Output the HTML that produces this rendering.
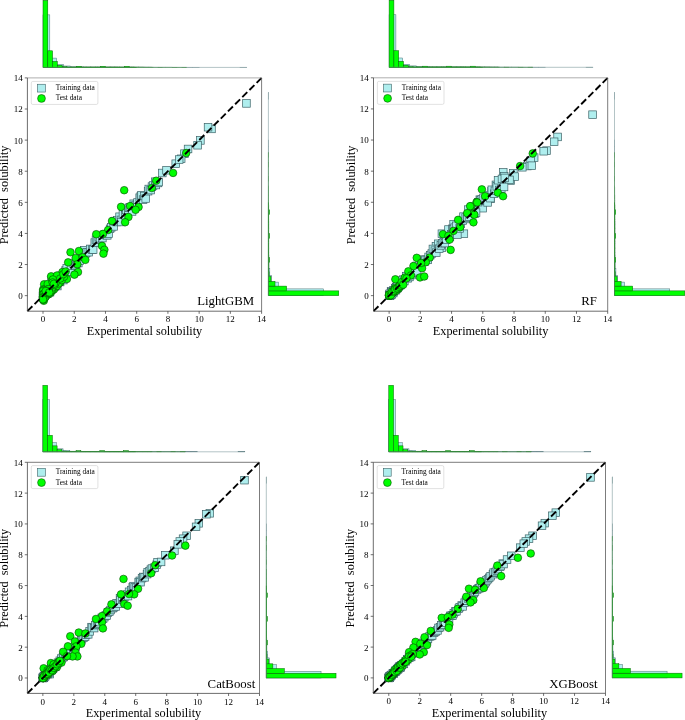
<!DOCTYPE html>
<html lang="en"><head><meta charset="utf-8"><title>Predicted vs experimental solubility</title>
<style>
html,body{margin:0;padding:0;background:#fff;}
svg{display:block;}
text{font-family:"Liberation Serif","Times New Roman",serif;fill:#000;white-space:pre;}
.tk{font-size:9px;}
.al{font-size:12.27px;}
.nm{font-size:12.8px;}
.lg{font-size:7.35px;}
</style></head><body>
<svg width="685" height="720" viewBox="0 0 685 720">
<rect width="685" height="720" fill="#fff"/>

<g id="LightGBM">
<g fill="#afeeee" stroke="#4d6e72" stroke-width="0.5"><rect x="43.01" y="14.86" width="6.79" height="52.54"/><rect x="49.81" y="58.09" width="6.79" height="9.31"/><rect x="56.6" y="64.4" width="6.79" height="3"/><rect x="63.39" y="66" width="6.79" height="1.4"/><rect x="70.18" y="66.8" width="6.79" height="0.6"/><rect x="76.97" y="66.9" width="6.79" height="0.5"/><rect x="83.76" y="67" width="6.79" height="0.4"/><rect x="90.56" y="67" width="6.79" height="0.4"/><rect x="97.35" y="67" width="6.79" height="0.4"/><rect x="104.14" y="67" width="6.79" height="0.4"/><rect x="110.93" y="67" width="6.79" height="0.4"/><rect x="117.72" y="67.1" width="6.79" height="0.3"/><rect x="124.51" y="67.1" width="6.79" height="0.3"/><rect x="131.31" y="67.1" width="6.79" height="0.3"/><rect x="138.1" y="67.1" width="6.79" height="0.3"/><rect x="144.89" y="67.1" width="6.79" height="0.3"/><rect x="151.68" y="67.2" width="6.79" height="0.2"/><rect x="158.47" y="67.2" width="6.79" height="0.2"/><rect x="165.27" y="67.2" width="6.79" height="0.2"/><rect x="172.06" y="67.3" width="6.79" height="0.1"/><rect x="178.85" y="67.3" width="6.79" height="0.1"/><rect x="185.64" y="67.3" width="6.79" height="0.1"/><rect x="192.43" y="67.3" width="6.79" height="0.1"/><rect x="239.98" y="67.3" width="6.79" height="0.1"/></g>
<g fill="#00ff00" stroke="#066006" stroke-width="0.5"><rect x="43.01" y="0.34" width="4.79" height="67.06"/><rect x="47.8" y="50.79" width="4.79" height="16.61"/><rect x="52.59" y="61.39" width="4.79" height="6.01"/><rect x="57.38" y="65.3" width="4.79" height="2.1"/><rect x="62.17" y="66.7" width="4.79" height="0.7"/><rect x="66.95" y="67" width="4.79" height="0.4"/><rect x="71.74" y="67" width="4.79" height="0.4"/><rect x="76.53" y="66.3" width="4.79" height="1.1"/><rect x="81.32" y="67" width="4.79" height="0.4"/><rect x="86.11" y="67" width="4.79" height="0.4"/><rect x="90.89" y="67" width="4.79" height="0.4"/><rect x="95.68" y="67" width="4.79" height="0.4"/><rect x="100.47" y="66.3" width="4.79" height="1.1"/><rect x="105.26" y="67" width="4.79" height="0.4"/><rect x="110.05" y="67" width="4.79" height="0.4"/><rect x="114.83" y="67" width="4.79" height="0.4"/><rect x="119.62" y="67" width="4.79" height="0.4"/><rect x="124.41" y="66.3" width="4.79" height="1.1"/><rect x="129.2" y="67" width="4.79" height="0.4"/><rect x="133.99" y="67.1" width="4.79" height="0.3"/><rect x="138.78" y="67.1" width="4.79" height="0.3"/><rect x="143.56" y="67.2" width="4.79" height="0.2"/><rect x="148.35" y="67.2" width="4.79" height="0.2"/><rect x="157.93" y="67.3" width="4.79" height="0.1"/><rect x="172.29" y="67.3" width="4.79" height="0.1"/><rect x="181.87" y="67.3" width="4.79" height="0.1"/></g>
<path d="M43.01 67.4H246.77" stroke="#93abae" stroke-width="0.7" fill="none"/>
<path d="M43.01 67.4H136.69" stroke="#1f8a1f" stroke-width="0.7" fill="none"/>
<path d="M136.69 67.4H186.66" stroke="#4f9a4f" stroke-width="0.5" fill="none"/>
<g fill="#afeeee" stroke="#4d6e72" stroke-width="0.5"><rect x="268.4" y="288.88" width="55.25" height="6.77"/><rect x="268.4" y="282.12" width="10.21" height="6.77"/><rect x="268.4" y="275.35" width="3" height="6.77"/><rect x="268.4" y="268.58" width="1.4" height="6.77"/><rect x="268.4" y="261.82" width="0.6" height="6.77"/><rect x="268.4" y="255.05" width="0.5" height="6.77"/><rect x="268.4" y="248.29" width="0.4" height="6.77"/><rect x="268.4" y="241.52" width="0.4" height="6.77"/><rect x="268.4" y="234.76" width="0.4" height="6.77"/><rect x="268.4" y="227.99" width="0.4" height="6.77"/><rect x="268.4" y="221.22" width="0.4" height="6.77"/><rect x="268.4" y="214.46" width="0.3" height="6.77"/><rect x="268.4" y="207.69" width="0.3" height="6.77"/><rect x="268.4" y="200.93" width="0.3" height="6.77"/><rect x="268.4" y="194.16" width="0.3" height="6.77"/><rect x="268.4" y="187.4" width="0.3" height="6.77"/><rect x="268.4" y="180.63" width="0.2" height="6.77"/><rect x="268.4" y="173.86" width="0.2" height="6.77"/><rect x="268.4" y="167.1" width="0.2" height="6.77"/><rect x="268.4" y="160.33" width="0.1" height="6.77"/><rect x="268.4" y="153.57" width="0.1" height="6.77"/><rect x="268.4" y="146.8" width="0.1" height="6.77"/><rect x="268.4" y="140.04" width="0.1" height="6.77"/><rect x="268.4" y="92.68" width="0.1" height="6.77"/></g>
<g fill="#00ff00" stroke="#066006" stroke-width="0.5"><rect x="268.4" y="290.88" width="70.36" height="4.77"/><rect x="268.4" y="286.11" width="18.22" height="4.77"/><rect x="268.4" y="281.34" width="6.61" height="4.77"/><rect x="268.4" y="276.57" width="2.6" height="4.77"/><rect x="268.4" y="271.8" width="0.7" height="4.77"/><rect x="268.4" y="267.03" width="0.4" height="4.77"/><rect x="268.4" y="262.26" width="0.4" height="4.77"/><rect x="268.4" y="257.49" width="1.1" height="4.77"/><rect x="268.4" y="252.72" width="0.4" height="4.77"/><rect x="268.4" y="247.95" width="0.4" height="4.77"/><rect x="268.4" y="243.18" width="0.4" height="4.77"/><rect x="268.4" y="238.41" width="0.4" height="4.77"/><rect x="268.4" y="233.64" width="1.1" height="4.77"/><rect x="268.4" y="228.87" width="0.4" height="4.77"/><rect x="268.4" y="224.1" width="0.4" height="4.77"/><rect x="268.4" y="219.33" width="0.4" height="4.77"/><rect x="268.4" y="214.56" width="0.4" height="4.77"/><rect x="268.4" y="209.79" width="1.1" height="4.77"/><rect x="268.4" y="205.02" width="0.4" height="4.77"/><rect x="268.4" y="200.25" width="0.3" height="4.77"/><rect x="268.4" y="195.48" width="0.3" height="4.77"/><rect x="268.4" y="190.71" width="0.2" height="4.77"/><rect x="268.4" y="185.94" width="0.2" height="4.77"/><rect x="268.4" y="176.4" width="0.1" height="4.77"/><rect x="268.4" y="162.1" width="0.1" height="4.77"/><rect x="268.4" y="152.56" width="0.1" height="4.77"/></g>
<path d="M268.4 295.65V92.68" stroke="#93abae" stroke-width="0.7" fill="none"/>
<path d="M268.4 295.65V202.33" stroke="#1f8a1f" stroke-width="0.7" fill="none"/>
<path d="M268.4 202.33V152.56" stroke="#4f9a4f" stroke-width="0.5" fill="none"/>
<g fill="#afeeee" stroke="#3c6266" stroke-width="0.7"><rect x="242.66" y="99.61" width="7.6" height="7.6"/><rect x="207.68" y="125.11" width="7.6" height="7.6"/><rect x="204.25" y="123.4" width="7.6" height="7.6"/><rect x="196.6" y="136.62" width="7.6" height="7.6"/><rect x="193.79" y="141.45" width="7.6" height="7.6"/><rect x="184.26" y="145.18" width="7.6" height="7.6"/><rect x="180.67" y="149.84" width="7.6" height="7.6"/><rect x="177.39" y="154.98" width="7.6" height="7.6"/><rect x="46.18" y="288.41" width="7.6" height="7.6"/><rect x="47.75" y="275.76" width="7.6" height="7.6"/><rect x="49.64" y="279.02" width="7.6" height="7.6"/><rect x="50.51" y="279.35" width="7.6" height="7.6"/><rect x="51.99" y="279.5" width="7.6" height="7.6"/><rect x="53.53" y="282.24" width="7.6" height="7.6"/><rect x="54.46" y="276.93" width="7.6" height="7.6"/><rect x="56.31" y="278.2" width="7.6" height="7.6"/><rect x="57.89" y="271.94" width="7.6" height="7.6"/><rect x="59.53" y="276.26" width="7.6" height="7.6"/><rect x="60.1" y="273.02" width="7.6" height="7.6"/><rect x="61.79" y="266.7" width="7.6" height="7.6"/><rect x="62.97" y="264.61" width="7.6" height="7.6"/><rect x="65.3" y="268.43" width="7.6" height="7.6"/><rect x="66.59" y="267.91" width="7.6" height="7.6"/><rect x="67.21" y="262.04" width="7.6" height="7.6"/><rect x="69.82" y="259.5" width="7.6" height="7.6"/><rect x="71.24" y="262.09" width="7.6" height="7.6"/><rect x="72.29" y="260.41" width="7.6" height="7.6"/><rect x="73.68" y="259.03" width="7.6" height="7.6"/><rect x="74.54" y="259.25" width="7.6" height="7.6"/><rect x="75.8" y="256.88" width="7.6" height="7.6"/><rect x="77.88" y="250.61" width="7.6" height="7.6"/><rect x="78.73" y="250.98" width="7.6" height="7.6"/><rect x="80.33" y="246.41" width="7.6" height="7.6"/><rect x="81.83" y="249.58" width="7.6" height="7.6"/><rect x="83" y="248.52" width="7.6" height="7.6"/><rect x="84.98" y="248.4" width="7.6" height="7.6"/><rect x="86.38" y="245.13" width="7.6" height="7.6"/><rect x="88.32" y="245.78" width="7.6" height="7.6"/><rect x="89.36" y="245.77" width="7.6" height="7.6"/><rect x="90.94" y="238.8" width="7.6" height="7.6"/><rect x="92.2" y="235.92" width="7.6" height="7.6"/><rect x="93.84" y="235.6" width="7.6" height="7.6"/><rect x="95.02" y="233.35" width="7.6" height="7.6"/><rect x="96.24" y="234.49" width="7.6" height="7.6"/><rect x="98.57" y="234.28" width="7.6" height="7.6"/><rect x="100.01" y="231.1" width="7.6" height="7.6"/><rect x="101.25" y="230.86" width="7.6" height="7.6"/><rect x="102.52" y="231.2" width="7.6" height="7.6"/><rect x="103.47" y="231.53" width="7.6" height="7.6"/><rect x="104.8" y="229.75" width="7.6" height="7.6"/><rect x="106.31" y="225.02" width="7.6" height="7.6"/><rect x="107.47" y="223.53" width="7.6" height="7.6"/><rect x="109.77" y="222.59" width="7.6" height="7.6"/><rect x="110.75" y="217.47" width="7.6" height="7.6"/><rect x="112.75" y="218.2" width="7.6" height="7.6"/><rect x="113.61" y="216.47" width="7.6" height="7.6"/><rect x="115.76" y="212.94" width="7.6" height="7.6"/><rect x="117.06" y="216.09" width="7.6" height="7.6"/><rect x="117.44" y="218.21" width="7.6" height="7.6"/><rect x="119.13" y="210.59" width="7.6" height="7.6"/><rect x="121.45" y="211.43" width="7.6" height="7.6"/><rect x="122.33" y="206.19" width="7.6" height="7.6"/><rect x="124.41" y="206.25" width="7.6" height="7.6"/><rect x="125.11" y="204.08" width="7.6" height="7.6"/><rect x="126.15" y="203.59" width="7.6" height="7.6"/><rect x="128.28" y="207.66" width="7.6" height="7.6"/><rect x="129.9" y="199.94" width="7.6" height="7.6"/><rect x="130.7" y="202.18" width="7.6" height="7.6"/><rect x="131.91" y="201.15" width="7.6" height="7.6"/><rect x="133.65" y="198.72" width="7.6" height="7.6"/><rect x="135.88" y="193.88" width="7.6" height="7.6"/><rect x="137.06" y="192.45" width="7.6" height="7.6"/><rect x="137.69" y="191.54" width="7.6" height="7.6"/><rect x="139.29" y="195.77" width="7.6" height="7.6"/><rect x="140.55" y="192.19" width="7.6" height="7.6"/><rect x="141.93" y="194.7" width="7.6" height="7.6"/><rect x="144.29" y="187.4" width="7.6" height="7.6"/><rect x="144.95" y="185.21" width="7.6" height="7.6"/><rect x="146.86" y="186.27" width="7.6" height="7.6"/><rect x="148.16" y="182.79" width="7.6" height="7.6"/><rect x="149.28" y="181.7" width="7.6" height="7.6"/><rect x="151.39" y="177.91" width="7.6" height="7.6"/><rect x="152.07" y="181.21" width="7.6" height="7.6"/><rect x="154.15" y="179.16" width="7.6" height="7.6"/><rect x="154.93" y="178.24" width="7.6" height="7.6"/><rect x="158.5" y="169.2" width="7.6" height="7.6"/><rect x="162.71" y="166.45" width="7.6" height="7.6"/><rect x="171.93" y="159.91" width="7.6" height="7.6"/><rect x="175.36" y="155.73" width="7.6" height="7.6"/><rect x="41.42" y="289.57" width="7.6" height="7.6"/><rect x="39.78" y="291.18" width="7.6" height="7.6"/><rect x="40.12" y="291.06" width="7.6" height="7.6"/><rect x="50.99" y="280.66" width="7.6" height="7.6"/><rect x="47.28" y="285.41" width="7.6" height="7.6"/><rect x="40.37" y="291.07" width="7.6" height="7.6"/><rect x="48.99" y="279.73" width="7.6" height="7.6"/><rect x="39.77" y="291.01" width="7.6" height="7.6"/><rect x="41.16" y="289.87" width="7.6" height="7.6"/><rect x="48.33" y="283.06" width="7.6" height="7.6"/><rect x="44.36" y="286.66" width="7.6" height="7.6"/><rect x="39.34" y="291.55" width="7.6" height="7.6"/><rect x="51.44" y="280.76" width="7.6" height="7.6"/><rect x="39.78" y="291.18" width="7.6" height="7.6"/><rect x="40.05" y="290.88" width="7.6" height="7.6"/><rect x="46.67" y="285.32" width="7.6" height="7.6"/><rect x="40.56" y="290.97" width="7.6" height="7.6"/><rect x="40.31" y="291.33" width="7.6" height="7.6"/><rect x="39.28" y="292.28" width="7.6" height="7.6"/><rect x="39.31" y="291.32" width="7.6" height="7.6"/><rect x="43.45" y="289.72" width="7.6" height="7.6"/><rect x="39.95" y="291.26" width="7.6" height="7.6"/><rect x="43.73" y="287.91" width="7.6" height="7.6"/><rect x="40.94" y="290.52" width="7.6" height="7.6"/><rect x="41.78" y="289.22" width="7.6" height="7.6"/><rect x="50.7" y="278.58" width="7.6" height="7.6"/><rect x="42.14" y="288.88" width="7.6" height="7.6"/><rect x="43.34" y="287.86" width="7.6" height="7.6"/><rect x="48.59" y="283.36" width="7.6" height="7.6"/><rect x="39.63" y="291.5" width="7.6" height="7.6"/><rect x="39.51" y="291.1" width="7.6" height="7.6"/><rect x="49.52" y="282.17" width="7.6" height="7.6"/><rect x="47.57" y="285.01" width="7.6" height="7.6"/><rect x="39.99" y="291.76" width="7.6" height="7.6"/><rect x="39.66" y="291.96" width="7.6" height="7.6"/><rect x="46.04" y="286.64" width="7.6" height="7.6"/><rect x="50.26" y="279.12" width="7.6" height="7.6"/><rect x="39.7" y="291.18" width="7.6" height="7.6"/><rect x="50.49" y="280.99" width="7.6" height="7.6"/><rect x="48.93" y="280.07" width="7.6" height="7.6"/><rect x="43.76" y="287.92" width="7.6" height="7.6"/><rect x="41.43" y="289.12" width="7.6" height="7.6"/><rect x="39.35" y="291.33" width="7.6" height="7.6"/><rect x="39.23" y="292.55" width="7.6" height="7.6"/><rect x="50.79" y="282.84" width="7.6" height="7.6"/><rect x="39.92" y="291.64" width="7.6" height="7.6"/><rect x="45.41" y="284.69" width="7.6" height="7.6"/><rect x="40.04" y="290.31" width="7.6" height="7.6"/><rect x="47.69" y="285.01" width="7.6" height="7.6"/><rect x="43.66" y="286.47" width="7.6" height="7.6"/></g>
<g fill="#00ff00" stroke="#065006" stroke-width="0.65"><circle cx="186.19" cy="153.02" r="3.8"/><circle cx="173.07" cy="172.93" r="3.8"/><circle cx="156.21" cy="180.71" r="3.8"/><circle cx="151.84" cy="188.02" r="3.8"/><circle cx="124.2" cy="190.2" r="3.8"/><circle cx="121.08" cy="206.84" r="3.8"/><circle cx="130.14" cy="206.06" r="3.8"/><circle cx="138.57" cy="206.99" r="3.8"/><circle cx="135.6" cy="209.79" r="3.8"/><circle cx="128.42" cy="216.95" r="3.8"/><circle cx="125.14" cy="222.23" r="3.8"/><circle cx="112.02" cy="220.99" r="3.8"/><circle cx="108.12" cy="230.01" r="3.8"/><circle cx="102.97" cy="233.9" r="3.8"/><circle cx="96.25" cy="234.21" r="3.8"/><circle cx="102.03" cy="245.88" r="3.8"/><circle cx="104.37" cy="249.76" r="3.8"/><circle cx="103.44" cy="253.65" r="3.8"/><circle cx="78.92" cy="251.01" r="3.8"/><circle cx="70.49" cy="252.25" r="3.8"/><circle cx="75.65" cy="258.01" r="3.8"/><circle cx="68.15" cy="262.36" r="3.8"/><circle cx="82.67" cy="257.23" r="3.8"/><circle cx="85.33" cy="259.87" r="3.8"/><circle cx="77.36" cy="264.23" r="3.8"/><circle cx="77.99" cy="272.01" r="3.8"/><circle cx="74.4" cy="274.65" r="3.8"/><circle cx="66.9" cy="279" r="3.8"/><circle cx="62.53" cy="272.01" r="3.8"/><circle cx="51.13" cy="276.36" r="3.8"/><circle cx="44.11" cy="284.29" r="3.8"/><circle cx="43.17" cy="289.43" r="3.8"/><circle cx="43.79" cy="300.78" r="3.8"/><circle cx="58.63" cy="277.76" r="3.8"/><circle cx="55.5" cy="287.09" r="3.8"/><circle cx="60.19" cy="282.43" r="3.8"/><circle cx="47.7" cy="283.98" r="3.8"/><circle cx="52.38" cy="280.87" r="3.8"/><circle cx="48.48" cy="294.09" r="3.8"/><circle cx="57.07" cy="275.43" r="3.8"/><circle cx="53.94" cy="288.65" r="3.8"/><circle cx="50.82" cy="292.54" r="3.8"/><circle cx="53.94" cy="289.43" r="3.8"/><circle cx="57.07" cy="286" r="3.8"/><circle cx="52.38" cy="290.51" r="3.8"/><circle cx="58.63" cy="283.52" r="3.8"/><circle cx="49.26" cy="293.78" r="3.8"/><circle cx="61.75" cy="280.09" r="3.8"/><circle cx="64.09" cy="276.67" r="3.8"/><circle cx="46.92" cy="295.34" r="3.8"/><circle cx="45.36" cy="297.2" r="3.8"/><circle cx="55.5" cy="283.2" r="3.8"/><circle cx="60.19" cy="278.54" r="3.8"/><circle cx="63.31" cy="274.18" r="3.8"/><circle cx="65.65" cy="271.54" r="3.8"/><circle cx="44.02" cy="295.54" r="3.8"/><circle cx="43.37" cy="296.21" r="3.8"/><circle cx="49.09" cy="290.88" r="3.8"/><circle cx="43.07" cy="296.35" r="3.8"/><circle cx="43.62" cy="299.28" r="3.8"/><circle cx="46.68" cy="294.33" r="3.8"/><circle cx="51.52" cy="290.05" r="3.8"/><circle cx="47.43" cy="290.1" r="3.8"/><circle cx="43.93" cy="289.86" r="3.8"/><circle cx="52.87" cy="279.46" r="3.8"/><circle cx="43.5" cy="295.95" r="3.8"/><circle cx="43.02" cy="299.66" r="3.8"/><circle cx="43.86" cy="295.75" r="3.8"/><circle cx="45.34" cy="295.52" r="3.8"/><circle cx="43.06" cy="290.98" r="3.8"/><circle cx="43.38" cy="293.95" r="3.8"/><circle cx="44.61" cy="295.76" r="3.8"/><circle cx="46.85" cy="289.64" r="3.8"/><circle cx="43.22" cy="294.19" r="3.8"/><circle cx="44.55" cy="297.91" r="3.8"/><circle cx="52.31" cy="287.63" r="3.8"/><circle cx="54.27" cy="284.99" r="3.8"/><circle cx="48.07" cy="290.57" r="3.8"/><circle cx="48.61" cy="289.77" r="3.8"/><circle cx="47.01" cy="292.45" r="3.8"/><circle cx="43.24" cy="294.97" r="3.8"/><circle cx="43.03" cy="297" r="3.8"/><circle cx="43.02" cy="297.73" r="3.8"/><circle cx="52.71" cy="282.45" r="3.8"/><circle cx="48.77" cy="289.07" r="3.8"/><circle cx="53.87" cy="283.81" r="3.8"/><circle cx="43.02" cy="299.36" r="3.8"/><circle cx="47.75" cy="291.31" r="3.8"/><circle cx="45.74" cy="291.02" r="3.8"/><circle cx="49.26" cy="292.43" r="3.8"/></g>
<line x1="27.4" y1="311.2" x2="261.6" y2="77.9" stroke="#000" stroke-width="1.9" stroke-dasharray="7.01 3.1"/>
<path d="M27.4 77.9H261.6" stroke="#9a9a9a" stroke-width="0.8" fill="none"/>
<path d="M261.6 77.9V311.2" stroke="#5a5a5a" stroke-width="0.8" fill="none"/>
<path d="M27.4 77.9V311.2H261.6" stroke="#484848" stroke-width="0.8" fill="none"/>
<path d="M43.01 311.2v2.6M27.4 295.65h-2.6M74.24 311.2v2.6M27.4 264.54h-2.6M105.47 311.2v2.6M27.4 233.43h-2.6M136.69 311.2v2.6M27.4 202.33h-2.6M167.92 311.2v2.6M27.4 171.22h-2.6M199.15 311.2v2.6M27.4 140.11h-2.6M230.37 311.2v2.6M27.4 109.01h-2.6M261.6 311.2v2.6M27.4 77.9h-2.6" stroke="#333" stroke-width="0.7" fill="none"/>
<text class="tk" x="43.01" y="322.3" text-anchor="middle">0</text><text class="tk" x="22.7" y="299.05" text-anchor="end">0</text><text class="tk" x="74.24" y="322.3" text-anchor="middle">2</text><text class="tk" x="22.7" y="267.94" text-anchor="end">2</text><text class="tk" x="105.47" y="322.3" text-anchor="middle">4</text><text class="tk" x="22.7" y="236.83" text-anchor="end">4</text><text class="tk" x="136.69" y="322.3" text-anchor="middle">6</text><text class="tk" x="22.7" y="205.73" text-anchor="end">6</text><text class="tk" x="167.92" y="322.3" text-anchor="middle">8</text><text class="tk" x="22.7" y="174.62" text-anchor="end">8</text><text class="tk" x="199.15" y="322.3" text-anchor="middle">10</text><text class="tk" x="22.7" y="143.51" text-anchor="end">10</text><text class="tk" x="230.37" y="322.3" text-anchor="middle">12</text><text class="tk" x="22.7" y="112.41" text-anchor="end">12</text><text class="tk" x="261.6" y="322.3" text-anchor="middle">14</text><text class="tk" x="22.7" y="81.3" text-anchor="end">14</text>
<text class="al" x="144.5" y="334.9" text-anchor="middle">Experimental solubility</text>
<text class="al" transform="translate(8.4 194.95) rotate(-90)" text-anchor="middle">Predicted  solubility</text>
<text class="nm" x="197.2" y="304.9">LightGBM</text>
<rect x="31.3" y="81.45" width="66.6" height="23" rx="1.5" fill="#fff" fill-opacity="0.8" stroke="#d4d4d4" stroke-width="0.7"/>
<rect x="37.5" y="84.25" width="7.8" height="7.8" fill="#afeeee" stroke="#3c6266" stroke-width="0.6"/>
<circle cx="41.5" cy="98.45" r="3.9" fill="#00ff00" stroke="#065006" stroke-width="0.6"/>
<text class="lg" x="55.7" y="89.95">Training data</text>
<text class="lg" x="55.7" y="100.45">Test data</text>
</g>
<g id="RF">
<g fill="#afeeee" stroke="#4d6e72" stroke-width="0.5"><rect x="389.11" y="14.76" width="6.79" height="52.54"/><rect x="395.91" y="57.99" width="6.79" height="9.31"/><rect x="402.7" y="64.3" width="6.79" height="3"/><rect x="409.49" y="65.9" width="6.79" height="1.4"/><rect x="416.28" y="66.7" width="6.79" height="0.6"/><rect x="423.07" y="66.8" width="6.79" height="0.5"/><rect x="429.86" y="66.9" width="6.79" height="0.4"/><rect x="436.66" y="66.9" width="6.79" height="0.4"/><rect x="443.45" y="66.9" width="6.79" height="0.4"/><rect x="450.24" y="66.9" width="6.79" height="0.4"/><rect x="457.03" y="66.9" width="6.79" height="0.4"/><rect x="463.82" y="67" width="6.79" height="0.3"/><rect x="470.61" y="67" width="6.79" height="0.3"/><rect x="477.41" y="67" width="6.79" height="0.3"/><rect x="484.2" y="67" width="6.79" height="0.3"/><rect x="490.99" y="67" width="6.79" height="0.3"/><rect x="497.78" y="67.1" width="6.79" height="0.2"/><rect x="504.57" y="67.1" width="6.79" height="0.2"/><rect x="511.37" y="67.1" width="6.79" height="0.2"/><rect x="518.16" y="67.2" width="6.79" height="0.1"/><rect x="524.95" y="67.2" width="6.79" height="0.1"/><rect x="531.74" y="67.2" width="6.79" height="0.1"/><rect x="538.53" y="67.2" width="6.79" height="0.1"/><rect x="586.08" y="67.2" width="6.79" height="0.1"/></g>
<g fill="#00ff00" stroke="#066006" stroke-width="0.5"><rect x="389.11" y="0.24" width="4.79" height="67.06"/><rect x="393.9" y="50.69" width="4.79" height="16.61"/><rect x="398.69" y="61.29" width="4.79" height="6.01"/><rect x="403.48" y="65.2" width="4.79" height="2.1"/><rect x="408.27" y="66.6" width="4.79" height="0.7"/><rect x="413.05" y="66.9" width="4.79" height="0.4"/><rect x="417.84" y="66.9" width="4.79" height="0.4"/><rect x="422.63" y="66.2" width="4.79" height="1.1"/><rect x="427.42" y="66.9" width="4.79" height="0.4"/><rect x="432.21" y="66.9" width="4.79" height="0.4"/><rect x="436.99" y="66.9" width="4.79" height="0.4"/><rect x="441.78" y="66.9" width="4.79" height="0.4"/><rect x="446.57" y="66.2" width="4.79" height="1.1"/><rect x="451.36" y="66.9" width="4.79" height="0.4"/><rect x="456.15" y="66.9" width="4.79" height="0.4"/><rect x="460.93" y="66.9" width="4.79" height="0.4"/><rect x="465.72" y="66.9" width="4.79" height="0.4"/><rect x="470.51" y="66.2" width="4.79" height="1.1"/><rect x="475.3" y="66.9" width="4.79" height="0.4"/><rect x="480.09" y="67" width="4.79" height="0.3"/><rect x="484.88" y="67" width="4.79" height="0.3"/><rect x="489.66" y="67.1" width="4.79" height="0.2"/><rect x="494.45" y="67.1" width="4.79" height="0.2"/><rect x="504.03" y="67.2" width="4.79" height="0.1"/><rect x="518.39" y="67.2" width="4.79" height="0.1"/><rect x="527.97" y="67.2" width="4.79" height="0.1"/></g>
<path d="M389.11 67.3H592.87" stroke="#93abae" stroke-width="0.7" fill="none"/>
<path d="M389.11 67.3H482.79" stroke="#1f8a1f" stroke-width="0.7" fill="none"/>
<path d="M482.79 67.3H532.76" stroke="#4f9a4f" stroke-width="0.5" fill="none"/>
<g fill="#afeeee" stroke="#4d6e72" stroke-width="0.5"><rect x="614.5" y="288.87" width="55.25" height="6.77"/><rect x="614.5" y="282.1" width="10.21" height="6.77"/><rect x="614.5" y="275.33" width="3" height="6.77"/><rect x="614.5" y="268.57" width="1.4" height="6.77"/><rect x="614.5" y="261.8" width="0.6" height="6.77"/><rect x="614.5" y="255.03" width="0.5" height="6.77"/><rect x="614.5" y="248.26" width="0.4" height="6.77"/><rect x="614.5" y="241.49" width="0.4" height="6.77"/><rect x="614.5" y="234.72" width="0.4" height="6.77"/><rect x="614.5" y="227.95" width="0.4" height="6.77"/><rect x="614.5" y="221.19" width="0.4" height="6.77"/><rect x="614.5" y="214.42" width="0.3" height="6.77"/><rect x="614.5" y="207.65" width="0.3" height="6.77"/><rect x="614.5" y="200.88" width="0.3" height="6.77"/><rect x="614.5" y="194.11" width="0.3" height="6.77"/><rect x="614.5" y="187.34" width="0.3" height="6.77"/><rect x="614.5" y="180.57" width="0.2" height="6.77"/><rect x="614.5" y="173.81" width="0.2" height="6.77"/><rect x="614.5" y="167.04" width="0.2" height="6.77"/><rect x="614.5" y="160.27" width="0.1" height="6.77"/><rect x="614.5" y="153.5" width="0.1" height="6.77"/><rect x="614.5" y="146.73" width="0.1" height="6.77"/><rect x="614.5" y="139.96" width="0.1" height="6.77"/><rect x="614.5" y="92.58" width="0.1" height="6.77"/></g>
<g fill="#00ff00" stroke="#066006" stroke-width="0.5"><rect x="614.5" y="290.87" width="70.36" height="4.77"/><rect x="614.5" y="286.1" width="18.22" height="4.77"/><rect x="614.5" y="281.32" width="6.61" height="4.77"/><rect x="614.5" y="276.55" width="2.6" height="4.77"/><rect x="614.5" y="271.78" width="0.7" height="4.77"/><rect x="614.5" y="267.01" width="0.4" height="4.77"/><rect x="614.5" y="262.24" width="0.4" height="4.77"/><rect x="614.5" y="257.47" width="1.1" height="4.77"/><rect x="614.5" y="252.69" width="0.4" height="4.77"/><rect x="614.5" y="247.92" width="0.4" height="4.77"/><rect x="614.5" y="243.15" width="0.4" height="4.77"/><rect x="614.5" y="238.38" width="0.4" height="4.77"/><rect x="614.5" y="233.61" width="1.1" height="4.77"/><rect x="614.5" y="228.84" width="0.4" height="4.77"/><rect x="614.5" y="224.06" width="0.4" height="4.77"/><rect x="614.5" y="219.29" width="0.4" height="4.77"/><rect x="614.5" y="214.52" width="0.4" height="4.77"/><rect x="614.5" y="209.75" width="1.1" height="4.77"/><rect x="614.5" y="204.98" width="0.4" height="4.77"/><rect x="614.5" y="200.21" width="0.3" height="4.77"/><rect x="614.5" y="195.43" width="0.3" height="4.77"/><rect x="614.5" y="190.66" width="0.2" height="4.77"/><rect x="614.5" y="185.89" width="0.2" height="4.77"/><rect x="614.5" y="176.35" width="0.1" height="4.77"/><rect x="614.5" y="162.03" width="0.1" height="4.77"/><rect x="614.5" y="152.49" width="0.1" height="4.77"/></g>
<path d="M614.5 295.64V92.58" stroke="#93abae" stroke-width="0.7" fill="none"/>
<path d="M614.5 295.64V202.28" stroke="#1f8a1f" stroke-width="0.7" fill="none"/>
<path d="M614.5 202.28V152.49" stroke="#4f9a4f" stroke-width="0.5" fill="none"/>
<g fill="#afeeee" stroke="#3c6266" stroke-width="0.7"><rect x="588.76" y="110.88" width="7.6" height="7.6"/><rect x="553.78" y="133.13" width="7.6" height="7.6"/><rect x="550.35" y="137.95" width="7.6" height="7.6"/><rect x="542.7" y="146.82" width="7.6" height="7.6"/><rect x="539.89" y="147.44" width="7.6" height="7.6"/><rect x="530.36" y="153.82" width="7.6" height="7.6"/><rect x="526.77" y="156.93" width="7.6" height="7.6"/><rect x="523.49" y="162.23" width="7.6" height="7.6"/><rect x="499.45" y="168.6" width="7.6" height="7.6"/><rect x="509.6" y="169.38" width="7.6" height="7.6"/><rect x="506.79" y="176.7" width="7.6" height="7.6"/><rect x="492.11" y="181.05" width="7.6" height="7.6"/><rect x="487.74" y="187.59" width="7.6" height="7.6"/><rect x="480.4" y="197.08" width="7.6" height="7.6"/><rect x="478.99" y="204.39" width="7.6" height="7.6"/><rect x="464.47" y="205.79" width="7.6" height="7.6"/><rect x="449.8" y="220.42" width="7.6" height="7.6"/><rect x="438.09" y="229.91" width="7.6" height="7.6"/><rect x="438.09" y="243.92" width="7.6" height="7.6"/><rect x="432.15" y="242.36" width="7.6" height="7.6"/><rect x="460.1" y="229.91" width="7.6" height="7.6"/><rect x="500.38" y="172.49" width="7.6" height="7.6"/><rect x="511" y="172.81" width="7.6" height="7.6"/><rect x="505.69" y="176.07" width="7.6" height="7.6"/><rect x="486.64" y="195.06" width="7.6" height="7.6"/><rect x="528.02" y="161.91" width="7.6" height="7.6"/><rect x="518.5" y="163.47" width="7.6" height="7.6"/><rect x="392.28" y="283.58" width="7.6" height="7.6"/><rect x="393.85" y="283.82" width="7.6" height="7.6"/><rect x="395.74" y="280.91" width="7.6" height="7.6"/><rect x="396.61" y="280.77" width="7.6" height="7.6"/><rect x="398.09" y="278.79" width="7.6" height="7.6"/><rect x="399.63" y="275.8" width="7.6" height="7.6"/><rect x="400.56" y="277.25" width="7.6" height="7.6"/><rect x="402.41" y="272.33" width="7.6" height="7.6"/><rect x="403.99" y="274.51" width="7.6" height="7.6"/><rect x="405.63" y="273.18" width="7.6" height="7.6"/><rect x="406.2" y="269.8" width="7.6" height="7.6"/><rect x="407.89" y="271.24" width="7.6" height="7.6"/><rect x="409.07" y="268.85" width="7.6" height="7.6"/><rect x="411.4" y="264.1" width="7.6" height="7.6"/><rect x="412.69" y="262.17" width="7.6" height="7.6"/><rect x="413.31" y="267.47" width="7.6" height="7.6"/><rect x="415.92" y="260.27" width="7.6" height="7.6"/><rect x="417.34" y="255.88" width="7.6" height="7.6"/><rect x="418.39" y="256.27" width="7.6" height="7.6"/><rect x="419.78" y="258.03" width="7.6" height="7.6"/><rect x="420.64" y="258" width="7.6" height="7.6"/><rect x="421.9" y="256.07" width="7.6" height="7.6"/><rect x="423.98" y="256.07" width="7.6" height="7.6"/><rect x="424.83" y="253.1" width="7.6" height="7.6"/><rect x="426.43" y="251.33" width="7.6" height="7.6"/><rect x="427.93" y="249.74" width="7.6" height="7.6"/><rect x="429.1" y="245.14" width="7.6" height="7.6"/><rect x="431.08" y="246.85" width="7.6" height="7.6"/><rect x="432.48" y="248.79" width="7.6" height="7.6"/><rect x="434.42" y="239.96" width="7.6" height="7.6"/><rect x="435.46" y="244.91" width="7.6" height="7.6"/><rect x="437.04" y="241.58" width="7.6" height="7.6"/><rect x="438.3" y="239.42" width="7.6" height="7.6"/><rect x="439.94" y="238.43" width="7.6" height="7.6"/><rect x="441.12" y="239.28" width="7.6" height="7.6"/><rect x="442.34" y="235.78" width="7.6" height="7.6"/><rect x="444.67" y="225.73" width="7.6" height="7.6"/><rect x="446.11" y="233.22" width="7.6" height="7.6"/><rect x="447.35" y="230.46" width="7.6" height="7.6"/><rect x="448.62" y="225.01" width="7.6" height="7.6"/><rect x="449.57" y="225.3" width="7.6" height="7.6"/><rect x="450.9" y="223.87" width="7.6" height="7.6"/><rect x="452.41" y="221.98" width="7.6" height="7.6"/><rect x="453.57" y="230.74" width="7.6" height="7.6"/><rect x="455.87" y="224.64" width="7.6" height="7.6"/><rect x="456.85" y="220.08" width="7.6" height="7.6"/><rect x="458.85" y="216.7" width="7.6" height="7.6"/><rect x="459.71" y="212.84" width="7.6" height="7.6"/><rect x="461.86" y="213.76" width="7.6" height="7.6"/><rect x="463.16" y="215.19" width="7.6" height="7.6"/><rect x="463.54" y="213.73" width="7.6" height="7.6"/><rect x="465.23" y="213.03" width="7.6" height="7.6"/><rect x="467.55" y="208.89" width="7.6" height="7.6"/><rect x="468.43" y="206.25" width="7.6" height="7.6"/><rect x="470.51" y="208.35" width="7.6" height="7.6"/><rect x="471.21" y="209.64" width="7.6" height="7.6"/><rect x="472.25" y="208.82" width="7.6" height="7.6"/><rect x="474.38" y="198.36" width="7.6" height="7.6"/><rect x="476" y="195.87" width="7.6" height="7.6"/><rect x="476.8" y="196.3" width="7.6" height="7.6"/><rect x="478.01" y="195.65" width="7.6" height="7.6"/><rect x="479.75" y="193.97" width="7.6" height="7.6"/><rect x="481.98" y="195.52" width="7.6" height="7.6"/><rect x="483.16" y="191.25" width="7.6" height="7.6"/><rect x="483.79" y="198.6" width="7.6" height="7.6"/><rect x="485.39" y="193.06" width="7.6" height="7.6"/><rect x="486.65" y="194.35" width="7.6" height="7.6"/><rect x="488.03" y="185.97" width="7.6" height="7.6"/><rect x="490.39" y="189.97" width="7.6" height="7.6"/><rect x="491.05" y="187" width="7.6" height="7.6"/><rect x="492.96" y="182.55" width="7.6" height="7.6"/><rect x="494.26" y="176.41" width="7.6" height="7.6"/><rect x="495.38" y="186.19" width="7.6" height="7.6"/><rect x="497.49" y="184.91" width="7.6" height="7.6"/><rect x="498.17" y="175.11" width="7.6" height="7.6"/><rect x="500.25" y="183.14" width="7.6" height="7.6"/><rect x="501.03" y="174.11" width="7.6" height="7.6"/><rect x="387.52" y="290.03" width="7.6" height="7.6"/><rect x="385.88" y="291.33" width="7.6" height="7.6"/><rect x="386.22" y="291.84" width="7.6" height="7.6"/><rect x="397.09" y="278.93" width="7.6" height="7.6"/><rect x="393.38" y="284.44" width="7.6" height="7.6"/><rect x="386.47" y="291.21" width="7.6" height="7.6"/><rect x="395.09" y="279.1" width="7.6" height="7.6"/><rect x="385.87" y="290.92" width="7.6" height="7.6"/><rect x="387.26" y="287.59" width="7.6" height="7.6"/><rect x="394.43" y="282.19" width="7.6" height="7.6"/><rect x="390.46" y="287.05" width="7.6" height="7.6"/><rect x="385.44" y="291.66" width="7.6" height="7.6"/><rect x="397.54" y="276.95" width="7.6" height="7.6"/><rect x="385.88" y="291.29" width="7.6" height="7.6"/><rect x="386.15" y="290.76" width="7.6" height="7.6"/><rect x="392.77" y="283.78" width="7.6" height="7.6"/><rect x="386.66" y="291.04" width="7.6" height="7.6"/><rect x="386.41" y="290.67" width="7.6" height="7.6"/><rect x="385.38" y="291.84" width="7.6" height="7.6"/><rect x="385.41" y="291.84" width="7.6" height="7.6"/><rect x="389.55" y="286.84" width="7.6" height="7.6"/><rect x="386.05" y="290.75" width="7.6" height="7.6"/><rect x="389.83" y="287.27" width="7.6" height="7.6"/><rect x="387.04" y="290.7" width="7.6" height="7.6"/><rect x="387.88" y="290.73" width="7.6" height="7.6"/><rect x="396.8" y="279.61" width="7.6" height="7.6"/><rect x="388.24" y="289" width="7.6" height="7.6"/><rect x="389.44" y="289.21" width="7.6" height="7.6"/><rect x="394.69" y="282.58" width="7.6" height="7.6"/><rect x="385.73" y="291.84" width="7.6" height="7.6"/><rect x="385.61" y="291.56" width="7.6" height="7.6"/><rect x="395.62" y="281.35" width="7.6" height="7.6"/><rect x="393.67" y="283.05" width="7.6" height="7.6"/><rect x="386.09" y="290.95" width="7.6" height="7.6"/><rect x="385.76" y="291.3" width="7.6" height="7.6"/><rect x="392.14" y="286.34" width="7.6" height="7.6"/><rect x="396.36" y="281.43" width="7.6" height="7.6"/><rect x="385.8" y="291.62" width="7.6" height="7.6"/><rect x="396.59" y="280.98" width="7.6" height="7.6"/><rect x="395.03" y="281.76" width="7.6" height="7.6"/><rect x="389.86" y="286.74" width="7.6" height="7.6"/><rect x="387.53" y="288.5" width="7.6" height="7.6"/><rect x="385.45" y="291.84" width="7.6" height="7.6"/><rect x="385.33" y="291.63" width="7.6" height="7.6"/><rect x="396.89" y="280.63" width="7.6" height="7.6"/><rect x="386.02" y="289.91" width="7.6" height="7.6"/><rect x="391.51" y="284.65" width="7.6" height="7.6"/><rect x="386.14" y="291.84" width="7.6" height="7.6"/><rect x="393.79" y="282.87" width="7.6" height="7.6"/><rect x="389.76" y="287.89" width="7.6" height="7.6"/></g>
<g fill="#00ff00" stroke="#065006" stroke-width="0.65"><circle cx="532.76" cy="153.42" r="3.8"/><circle cx="520.11" cy="166.03" r="3.8"/><circle cx="481.86" cy="189.37" r="3.8"/><circle cx="485.14" cy="196.21" r="3.8"/><circle cx="497.78" cy="192.63" r="3.8"/><circle cx="503.09" cy="196.21" r="3.8"/><circle cx="476.55" cy="202.12" r="3.8"/><circle cx="471.24" cy="206.33" r="3.8"/><circle cx="473.43" cy="213.79" r="3.8"/><circle cx="477.17" cy="202.44" r="3.8"/><circle cx="470.15" cy="206.17" r="3.8"/><circle cx="474.36" cy="214.73" r="3.8"/><circle cx="473.43" cy="222.35" r="3.8"/><circle cx="458.12" cy="219.86" r="3.8"/><circle cx="442.98" cy="234.18" r="3.8"/><circle cx="450.63" cy="249.89" r="3.8"/><circle cx="416.75" cy="257.83" r="3.8"/><circle cx="413.47" cy="266.08" r="3.8"/><circle cx="408.32" cy="271.37" r="3.8"/><circle cx="422.06" cy="268.25" r="3.8"/><circle cx="420.03" cy="277.43" r="3.8"/><circle cx="424.24" cy="276.5" r="3.8"/><circle cx="395.36" cy="279.3" r="3.8"/><circle cx="429.71" cy="257.52" r="3.8"/><circle cx="425.8" cy="262.19" r="3.8"/><circle cx="453.44" cy="230.91" r="3.8"/><circle cx="460.15" cy="227.18" r="3.8"/><circle cx="448.44" cy="235.73" r="3.8"/><circle cx="467.18" cy="213.17" r="3.8"/><circle cx="404.73" cy="278.52" r="3.8"/><circle cx="401.6" cy="284.75" r="3.8"/><circle cx="410.97" cy="275.41" r="3.8"/><circle cx="398.48" cy="287.86" r="3.8"/><circle cx="449.54" cy="239.62" r="3.8"/><circle cx="421.12" cy="262.96" r="3.8"/><circle cx="390.12" cy="294.08" r="3.8"/><circle cx="389.47" cy="295.64" r="3.8"/><circle cx="395.19" cy="289.69" r="3.8"/><circle cx="389.17" cy="295.64" r="3.8"/><circle cx="389.72" cy="295.08" r="3.8"/><circle cx="392.78" cy="292.45" r="3.8"/><circle cx="397.62" cy="289.42" r="3.8"/><circle cx="393.53" cy="290.84" r="3.8"/><circle cx="390.03" cy="294.17" r="3.8"/><circle cx="398.97" cy="285.91" r="3.8"/><circle cx="389.6" cy="295.64" r="3.8"/><circle cx="389.12" cy="295.54" r="3.8"/><circle cx="389.96" cy="294.49" r="3.8"/><circle cx="391.44" cy="293.44" r="3.8"/><circle cx="389.16" cy="295.6" r="3.8"/><circle cx="389.48" cy="294.57" r="3.8"/><circle cx="390.71" cy="294.73" r="3.8"/><circle cx="392.95" cy="292.27" r="3.8"/><circle cx="389.32" cy="295.64" r="3.8"/><circle cx="390.65" cy="294.53" r="3.8"/><circle cx="398.41" cy="287.34" r="3.8"/><circle cx="400.37" cy="285.84" r="3.8"/><circle cx="394.17" cy="291.24" r="3.8"/><circle cx="394.71" cy="288.32" r="3.8"/><circle cx="393.11" cy="291.82" r="3.8"/><circle cx="389.34" cy="295.47" r="3.8"/><circle cx="389.13" cy="294.6" r="3.8"/><circle cx="389.12" cy="295.64" r="3.8"/><circle cx="398.81" cy="288.29" r="3.8"/><circle cx="394.87" cy="289.51" r="3.8"/><circle cx="399.97" cy="286.17" r="3.8"/><circle cx="389.12" cy="294.87" r="3.8"/><circle cx="393.85" cy="292.03" r="3.8"/><circle cx="391.84" cy="293.34" r="3.8"/><circle cx="395.36" cy="291.06" r="3.8"/><circle cx="390.92" cy="295.32" r="3.8"/><circle cx="391.83" cy="291.69" r="3.8"/><circle cx="393.65" cy="291.11" r="3.8"/><circle cx="395.22" cy="289.39" r="3.8"/><circle cx="397.05" cy="288.34" r="3.8"/><circle cx="398.9" cy="286.78" r="3.8"/><circle cx="400.2" cy="285.47" r="3.8"/><circle cx="401.67" cy="282.02" r="3.8"/><circle cx="403.2" cy="284.7" r="3.8"/><circle cx="404.86" cy="277.54" r="3.8"/><circle cx="406.48" cy="278.33" r="3.8"/></g>
<line x1="373.5" y1="311.2" x2="607.7" y2="77.8" stroke="#000" stroke-width="1.9" stroke-dasharray="7.01 3.1"/>
<path d="M373.5 77.8H607.7" stroke="#9a9a9a" stroke-width="0.8" fill="none"/>
<path d="M607.7 77.8V311.2" stroke="#5a5a5a" stroke-width="0.8" fill="none"/>
<path d="M373.5 77.8V311.2H607.7" stroke="#484848" stroke-width="0.8" fill="none"/>
<path d="M389.11 311.2v2.6M373.5 295.64h-2.6M420.34 311.2v2.6M373.5 264.52h-2.6M451.57 311.2v2.6M373.5 233.4h-2.6M482.79 311.2v2.6M373.5 202.28h-2.6M514.02 311.2v2.6M373.5 171.16h-2.6M545.25 311.2v2.6M373.5 140.04h-2.6M576.47 311.2v2.6M373.5 108.92h-2.6M607.7 311.2v2.6M373.5 77.8h-2.6" stroke="#333" stroke-width="0.7" fill="none"/>
<text class="tk" x="389.11" y="322.3" text-anchor="middle">0</text><text class="tk" x="368.8" y="299.04" text-anchor="end">0</text><text class="tk" x="420.34" y="322.3" text-anchor="middle">2</text><text class="tk" x="368.8" y="267.92" text-anchor="end">2</text><text class="tk" x="451.57" y="322.3" text-anchor="middle">4</text><text class="tk" x="368.8" y="236.8" text-anchor="end">4</text><text class="tk" x="482.79" y="322.3" text-anchor="middle">6</text><text class="tk" x="368.8" y="205.68" text-anchor="end">6</text><text class="tk" x="514.02" y="322.3" text-anchor="middle">8</text><text class="tk" x="368.8" y="174.56" text-anchor="end">8</text><text class="tk" x="545.25" y="322.3" text-anchor="middle">10</text><text class="tk" x="368.8" y="143.44" text-anchor="end">10</text><text class="tk" x="576.47" y="322.3" text-anchor="middle">12</text><text class="tk" x="368.8" y="112.32" text-anchor="end">12</text><text class="tk" x="607.7" y="322.3" text-anchor="middle">14</text><text class="tk" x="368.8" y="81.2" text-anchor="end">14</text>
<text class="al" x="490.6" y="334.9" text-anchor="middle">Experimental solubility</text>
<text class="al" transform="translate(354.5 194.9) rotate(-90)" text-anchor="middle">Predicted  solubility</text>
<text class="nm" x="581.2" y="305">RF</text>
<rect x="377.4" y="81.35" width="66.6" height="23" rx="1.5" fill="#fff" fill-opacity="0.8" stroke="#d4d4d4" stroke-width="0.7"/>
<rect x="383.6" y="84.15" width="7.8" height="7.8" fill="#afeeee" stroke="#3c6266" stroke-width="0.6"/>
<circle cx="387.6" cy="98.35" r="3.9" fill="#00ff00" stroke="#065006" stroke-width="0.6"/>
<text class="lg" x="401.8" y="89.85">Training data</text>
<text class="lg" x="401.8" y="100.35">Test data</text>
</g>
<g id="CatBoost">
<g fill="#afeeee" stroke="#4d6e72" stroke-width="0.5"><rect x="42.87" y="399.73" width="6.73" height="52.07"/><rect x="49.6" y="442.58" width="6.73" height="9.22"/><rect x="56.34" y="448.82" width="6.73" height="2.98"/><rect x="63.07" y="450.41" width="6.73" height="1.39"/><rect x="69.8" y="451.2" width="6.73" height="0.6"/><rect x="76.53" y="451.3" width="6.73" height="0.5"/><rect x="83.26" y="451.4" width="6.73" height="0.4"/><rect x="89.99" y="451.4" width="6.73" height="0.4"/><rect x="96.72" y="451.4" width="6.73" height="0.4"/><rect x="103.45" y="451.4" width="6.73" height="0.4"/><rect x="110.18" y="451.4" width="6.73" height="0.4"/><rect x="116.91" y="451.5" width="6.73" height="0.3"/><rect x="123.64" y="451.5" width="6.73" height="0.3"/><rect x="130.38" y="451.5" width="6.73" height="0.3"/><rect x="137.11" y="451.5" width="6.73" height="0.3"/><rect x="143.84" y="451.5" width="6.73" height="0.3"/><rect x="150.57" y="451.6" width="6.73" height="0.2"/><rect x="157.3" y="451.6" width="6.73" height="0.2"/><rect x="164.03" y="451.6" width="6.73" height="0.2"/><rect x="170.76" y="451.7" width="6.73" height="0.1"/><rect x="177.49" y="451.7" width="6.73" height="0.1"/><rect x="184.22" y="451.7" width="6.73" height="0.1"/><rect x="190.95" y="451.7" width="6.73" height="0.1"/><rect x="238.07" y="451.7" width="6.73" height="0.1"/></g>
<g fill="#00ff00" stroke="#066006" stroke-width="0.5"><rect x="42.87" y="385.34" width="4.75" height="66.46"/><rect x="47.62" y="435.33" width="4.75" height="16.47"/><rect x="52.36" y="445.85" width="4.75" height="5.95"/><rect x="57.11" y="449.72" width="4.75" height="2.08"/><rect x="61.85" y="451.11" width="4.75" height="0.69"/><rect x="66.6" y="451.4" width="4.75" height="0.4"/><rect x="71.34" y="451.4" width="4.75" height="0.4"/><rect x="76.09" y="450.71" width="4.75" height="1.09"/><rect x="80.83" y="451.4" width="4.75" height="0.4"/><rect x="85.58" y="451.4" width="4.75" height="0.4"/><rect x="90.32" y="451.4" width="4.75" height="0.4"/><rect x="95.07" y="451.4" width="4.75" height="0.4"/><rect x="99.82" y="450.71" width="4.75" height="1.09"/><rect x="104.56" y="451.4" width="4.75" height="0.4"/><rect x="109.31" y="451.4" width="4.75" height="0.4"/><rect x="114.05" y="451.4" width="4.75" height="0.4"/><rect x="118.8" y="451.4" width="4.75" height="0.4"/><rect x="123.54" y="450.71" width="4.75" height="1.09"/><rect x="128.29" y="451.4" width="4.75" height="0.4"/><rect x="133.03" y="451.5" width="4.75" height="0.3"/><rect x="137.78" y="451.5" width="4.75" height="0.3"/><rect x="142.52" y="451.6" width="4.75" height="0.2"/><rect x="147.27" y="451.6" width="4.75" height="0.2"/><rect x="156.76" y="451.7" width="4.75" height="0.1"/><rect x="170.99" y="451.7" width="4.75" height="0.1"/><rect x="180.48" y="451.7" width="4.75" height="0.1"/></g>
<path d="M42.87 451.8H244.8" stroke="#93abae" stroke-width="0.7" fill="none"/>
<path d="M42.87 451.8H135.71" stroke="#1f8a1f" stroke-width="0.7" fill="none"/>
<path d="M135.71 451.8H185.23" stroke="#4f9a4f" stroke-width="0.5" fill="none"/>
<g fill="#afeeee" stroke="#4d6e72" stroke-width="0.5"><rect x="266.3" y="671.29" width="54.75" height="6.7"/><rect x="266.3" y="664.59" width="10.12" height="6.7"/><rect x="266.3" y="657.89" width="2.98" height="6.7"/><rect x="266.3" y="651.19" width="1.39" height="6.7"/><rect x="266.3" y="644.48" width="0.6" height="6.7"/><rect x="266.3" y="637.78" width="0.5" height="6.7"/><rect x="266.3" y="631.08" width="0.4" height="6.7"/><rect x="266.3" y="624.38" width="0.4" height="6.7"/><rect x="266.3" y="617.68" width="0.4" height="6.7"/><rect x="266.3" y="610.97" width="0.4" height="6.7"/><rect x="266.3" y="604.27" width="0.4" height="6.7"/><rect x="266.3" y="597.57" width="0.3" height="6.7"/><rect x="266.3" y="590.87" width="0.3" height="6.7"/><rect x="266.3" y="584.17" width="0.3" height="6.7"/><rect x="266.3" y="577.46" width="0.3" height="6.7"/><rect x="266.3" y="570.76" width="0.3" height="6.7"/><rect x="266.3" y="564.06" width="0.2" height="6.7"/><rect x="266.3" y="557.36" width="0.2" height="6.7"/><rect x="266.3" y="550.66" width="0.2" height="6.7"/><rect x="266.3" y="543.96" width="0.1" height="6.7"/><rect x="266.3" y="537.25" width="0.1" height="6.7"/><rect x="266.3" y="530.55" width="0.1" height="6.7"/><rect x="266.3" y="523.85" width="0.1" height="6.7"/><rect x="266.3" y="476.94" width="0.1" height="6.7"/></g>
<g fill="#00ff00" stroke="#066006" stroke-width="0.5"><rect x="266.3" y="673.27" width="69.73" height="4.72"/><rect x="266.3" y="668.54" width="18.05" height="4.72"/><rect x="266.3" y="663.82" width="6.55" height="4.72"/><rect x="266.3" y="659.09" width="2.58" height="4.72"/><rect x="266.3" y="654.37" width="0.69" height="4.72"/><rect x="266.3" y="649.65" width="0.4" height="4.72"/><rect x="266.3" y="644.92" width="0.4" height="4.72"/><rect x="266.3" y="640.2" width="1.09" height="4.72"/><rect x="266.3" y="635.47" width="0.4" height="4.72"/><rect x="266.3" y="630.75" width="0.4" height="4.72"/><rect x="266.3" y="626.02" width="0.4" height="4.72"/><rect x="266.3" y="621.3" width="0.4" height="4.72"/><rect x="266.3" y="616.57" width="1.09" height="4.72"/><rect x="266.3" y="611.85" width="0.4" height="4.72"/><rect x="266.3" y="607.12" width="0.4" height="4.72"/><rect x="266.3" y="602.4" width="0.4" height="4.72"/><rect x="266.3" y="597.67" width="0.4" height="4.72"/><rect x="266.3" y="592.95" width="1.09" height="4.72"/><rect x="266.3" y="588.22" width="0.4" height="4.72"/><rect x="266.3" y="583.5" width="0.3" height="4.72"/><rect x="266.3" y="578.77" width="0.3" height="4.72"/><rect x="266.3" y="574.05" width="0.2" height="4.72"/><rect x="266.3" y="569.32" width="0.2" height="4.72"/><rect x="266.3" y="559.88" width="0.1" height="4.72"/><rect x="266.3" y="545.7" width="0.1" height="4.72"/><rect x="266.3" y="536.25" width="0.1" height="4.72"/></g>
<path d="M266.3 677.99V476.94" stroke="#93abae" stroke-width="0.7" fill="none"/>
<path d="M266.3 677.99V585.55" stroke="#1f8a1f" stroke-width="0.7" fill="none"/>
<path d="M266.3 585.55V536.25" stroke="#4f9a4f" stroke-width="0.5" fill="none"/>
<g fill="#afeeee" stroke="#3c6266" stroke-width="0.7"><rect x="240.69" y="476.37" width="7.6" height="7.6"/><rect x="206.03" y="509.5" width="7.6" height="7.6"/><rect x="202.63" y="510.42" width="7.6" height="7.6"/><rect x="195.04" y="519.51" width="7.6" height="7.6"/><rect x="192.26" y="523.05" width="7.6" height="7.6"/><rect x="182.82" y="531.99" width="7.6" height="7.6"/><rect x="179.26" y="534.92" width="7.6" height="7.6"/><rect x="176.01" y="537.69" width="7.6" height="7.6"/><rect x="45.98" y="670.33" width="7.6" height="7.6"/><rect x="47.53" y="664.29" width="7.6" height="7.6"/><rect x="49.41" y="663.69" width="7.6" height="7.6"/><rect x="50.26" y="663.11" width="7.6" height="7.6"/><rect x="51.74" y="662.41" width="7.6" height="7.6"/><rect x="53.26" y="660.35" width="7.6" height="7.6"/><rect x="54.19" y="658.94" width="7.6" height="7.6"/><rect x="56.02" y="656.97" width="7.6" height="7.6"/><rect x="57.59" y="654.78" width="7.6" height="7.6"/><rect x="59.21" y="653.47" width="7.6" height="7.6"/><rect x="59.77" y="653.11" width="7.6" height="7.6"/><rect x="61.45" y="650.78" width="7.6" height="7.6"/><rect x="62.61" y="651.52" width="7.6" height="7.6"/><rect x="64.93" y="651.27" width="7.6" height="7.6"/><rect x="66.21" y="647.32" width="7.6" height="7.6"/><rect x="66.82" y="649.77" width="7.6" height="7.6"/><rect x="69.41" y="645.44" width="7.6" height="7.6"/><rect x="70.81" y="643.86" width="7.6" height="7.6"/><rect x="71.85" y="643.05" width="7.6" height="7.6"/><rect x="73.23" y="638.9" width="7.6" height="7.6"/><rect x="74.08" y="638.66" width="7.6" height="7.6"/><rect x="75.33" y="638.07" width="7.6" height="7.6"/><rect x="77.39" y="636.37" width="7.6" height="7.6"/><rect x="78.23" y="634.63" width="7.6" height="7.6"/><rect x="79.82" y="633.89" width="7.6" height="7.6"/><rect x="81.31" y="632.79" width="7.6" height="7.6"/><rect x="82.47" y="630.87" width="7.6" height="7.6"/><rect x="84.43" y="630.52" width="7.6" height="7.6"/><rect x="85.82" y="627.6" width="7.6" height="7.6"/><rect x="87.74" y="623.31" width="7.6" height="7.6"/><rect x="88.77" y="623.78" width="7.6" height="7.6"/><rect x="90.34" y="624.31" width="7.6" height="7.6"/><rect x="91.59" y="621.27" width="7.6" height="7.6"/><rect x="93.21" y="621.13" width="7.6" height="7.6"/><rect x="94.38" y="619.71" width="7.6" height="7.6"/><rect x="95.59" y="618.27" width="7.6" height="7.6"/><rect x="97.9" y="614.09" width="7.6" height="7.6"/><rect x="99.32" y="615.02" width="7.6" height="7.6"/><rect x="100.55" y="613.31" width="7.6" height="7.6"/><rect x="101.81" y="611.91" width="7.6" height="7.6"/><rect x="102.75" y="611.68" width="7.6" height="7.6"/><rect x="104.07" y="608.67" width="7.6" height="7.6"/><rect x="105.56" y="607.92" width="7.6" height="7.6"/><rect x="106.72" y="606.23" width="7.6" height="7.6"/><rect x="109" y="604.4" width="7.6" height="7.6"/><rect x="109.97" y="603.57" width="7.6" height="7.6"/><rect x="111.95" y="602.7" width="7.6" height="7.6"/><rect x="112.8" y="599.35" width="7.6" height="7.6"/><rect x="114.93" y="599.74" width="7.6" height="7.6"/><rect x="116.22" y="594.31" width="7.6" height="7.6"/><rect x="116.6" y="596" width="7.6" height="7.6"/><rect x="118.28" y="594.93" width="7.6" height="7.6"/><rect x="120.57" y="593.19" width="7.6" height="7.6"/><rect x="121.45" y="591.23" width="7.6" height="7.6"/><rect x="123.5" y="590.77" width="7.6" height="7.6"/><rect x="124.2" y="592.3" width="7.6" height="7.6"/><rect x="125.23" y="588" width="7.6" height="7.6"/><rect x="127.34" y="586.26" width="7.6" height="7.6"/><rect x="128.95" y="583.4" width="7.6" height="7.6"/><rect x="129.74" y="582.32" width="7.6" height="7.6"/><rect x="130.94" y="583.39" width="7.6" height="7.6"/><rect x="132.67" y="583.94" width="7.6" height="7.6"/><rect x="134.87" y="578.22" width="7.6" height="7.6"/><rect x="136.04" y="577.05" width="7.6" height="7.6"/><rect x="136.67" y="578.36" width="7.6" height="7.6"/><rect x="138.25" y="574.31" width="7.6" height="7.6"/><rect x="139.5" y="573.2" width="7.6" height="7.6"/><rect x="140.87" y="573.54" width="7.6" height="7.6"/><rect x="143.21" y="570.31" width="7.6" height="7.6"/><rect x="143.86" y="568.6" width="7.6" height="7.6"/><rect x="145.76" y="567.54" width="7.6" height="7.6"/><rect x="147.04" y="565.86" width="7.6" height="7.6"/><rect x="148.15" y="564.77" width="7.6" height="7.6"/><rect x="150.24" y="564.09" width="7.6" height="7.6"/><rect x="150.92" y="563.86" width="7.6" height="7.6"/><rect x="152.98" y="560.89" width="7.6" height="7.6"/><rect x="153.75" y="558.59" width="7.6" height="7.6"/><rect x="157.29" y="558.12" width="7.6" height="7.6"/><rect x="161.47" y="551.42" width="7.6" height="7.6"/><rect x="170.6" y="546.92" width="7.6" height="7.6"/><rect x="174" y="540.57" width="7.6" height="7.6"/><rect x="41.26" y="671.48" width="7.6" height="7.6"/><rect x="39.63" y="673.76" width="7.6" height="7.6"/><rect x="39.97" y="673.29" width="7.6" height="7.6"/><rect x="50.74" y="662.18" width="7.6" height="7.6"/><rect x="47.06" y="665.38" width="7.6" height="7.6"/><rect x="40.22" y="673.37" width="7.6" height="7.6"/><rect x="48.77" y="665.02" width="7.6" height="7.6"/><rect x="39.62" y="673.82" width="7.6" height="7.6"/><rect x="41" y="672.34" width="7.6" height="7.6"/><rect x="48.11" y="664.17" width="7.6" height="7.6"/><rect x="44.17" y="669.71" width="7.6" height="7.6"/><rect x="39.2" y="674.19" width="7.6" height="7.6"/><rect x="51.19" y="663.07" width="7.6" height="7.6"/><rect x="39.64" y="673.95" width="7.6" height="7.6"/><rect x="39.9" y="673.3" width="7.6" height="7.6"/><rect x="46.46" y="666.41" width="7.6" height="7.6"/><rect x="40.41" y="672.2" width="7.6" height="7.6"/><rect x="40.16" y="673.19" width="7.6" height="7.6"/><rect x="39.14" y="674.08" width="7.6" height="7.6"/><rect x="39.17" y="674.14" width="7.6" height="7.6"/><rect x="43.28" y="669.68" width="7.6" height="7.6"/><rect x="39.8" y="673.39" width="7.6" height="7.6"/><rect x="43.55" y="670.3" width="7.6" height="7.6"/><rect x="40.78" y="672.29" width="7.6" height="7.6"/><rect x="41.62" y="671.3" width="7.6" height="7.6"/><rect x="50.46" y="662.26" width="7.6" height="7.6"/><rect x="41.97" y="671.17" width="7.6" height="7.6"/><rect x="43.16" y="670.04" width="7.6" height="7.6"/><rect x="48.37" y="665.33" width="7.6" height="7.6"/><rect x="39.49" y="674.07" width="7.6" height="7.6"/><rect x="39.37" y="674.06" width="7.6" height="7.6"/><rect x="49.29" y="664.55" width="7.6" height="7.6"/><rect x="47.35" y="666.39" width="7.6" height="7.6"/><rect x="39.84" y="673.4" width="7.6" height="7.6"/><rect x="39.52" y="673.98" width="7.6" height="7.6"/><rect x="45.84" y="666.67" width="7.6" height="7.6"/><rect x="50.02" y="663.13" width="7.6" height="7.6"/><rect x="39.55" y="673.8" width="7.6" height="7.6"/><rect x="50.25" y="662.02" width="7.6" height="7.6"/><rect x="48.71" y="663.72" width="7.6" height="7.6"/><rect x="43.58" y="670.26" width="7.6" height="7.6"/><rect x="41.27" y="672.41" width="7.6" height="7.6"/><rect x="39.21" y="674" width="7.6" height="7.6"/><rect x="39.09" y="673.94" width="7.6" height="7.6"/><rect x="50.55" y="662.84" width="7.6" height="7.6"/><rect x="39.78" y="673.01" width="7.6" height="7.6"/><rect x="45.22" y="668.61" width="7.6" height="7.6"/><rect x="39.89" y="673.09" width="7.6" height="7.6"/><rect x="47.47" y="665.26" width="7.6" height="7.6"/><rect x="43.48" y="669.84" width="7.6" height="7.6"/></g>
<g fill="#00ff00" stroke="#065006" stroke-width="0.65"><circle cx="123.49" cy="578.93" r="3.8"/><circle cx="151.19" cy="573.23" r="3.8"/><circle cx="138.03" cy="588.79" r="3.8"/><circle cx="134.17" cy="594.34" r="3.8"/><circle cx="129.06" cy="594.03" r="3.8"/><circle cx="121.01" cy="594.34" r="3.8"/><circle cx="124.26" cy="604.04" r="3.8"/><circle cx="127.67" cy="605.74" r="3.8"/><circle cx="111.42" cy="604.35" r="3.8"/><circle cx="107.09" cy="611.44" r="3.8"/><circle cx="101.98" cy="616.06" r="3.8"/><circle cx="95.95" cy="618.99" r="3.8"/><circle cx="101.98" cy="622.22" r="3.8"/><circle cx="102.91" cy="628.38" r="3.8"/><circle cx="78.77" cy="632.54" r="3.8"/><circle cx="85.42" cy="633.47" r="3.8"/><circle cx="70.26" cy="636.24" r="3.8"/><circle cx="74.9" cy="641.48" r="3.8"/><circle cx="67.94" cy="646.26" r="3.8"/><circle cx="81.25" cy="643.79" r="3.8"/><circle cx="76.45" cy="646.26" r="3.8"/><circle cx="63.14" cy="651.8" r="3.8"/><circle cx="75.52" cy="652.57" r="3.8"/><circle cx="77.38" cy="656.42" r="3.8"/><circle cx="72.58" cy="656.42" r="3.8"/><circle cx="67.01" cy="656.12" r="3.8"/><circle cx="50.92" cy="663.05" r="3.8"/><circle cx="43.65" cy="668.29" r="3.8"/><circle cx="185.38" cy="545.65" r="3.8"/><circle cx="172.08" cy="555.51" r="3.8"/><circle cx="155.21" cy="565.22" r="3.8"/><circle cx="58.35" cy="661.82" r="3.8"/><circle cx="55.25" cy="664.13" r="3.8"/><circle cx="61.44" cy="662.59" r="3.8"/><circle cx="52.93" cy="670.29" r="3.8"/><circle cx="47.52" cy="670.29" r="3.8"/><circle cx="56.8" cy="667.21" r="3.8"/><circle cx="43.87" cy="677.87" r="3.8"/><circle cx="43.23" cy="677.88" r="3.8"/><circle cx="48.9" cy="671.07" r="3.8"/><circle cx="42.93" cy="677.99" r="3.8"/><circle cx="43.48" cy="677.55" r="3.8"/><circle cx="46.5" cy="674.12" r="3.8"/><circle cx="51.31" cy="669.25" r="3.8"/><circle cx="47.25" cy="673.88" r="3.8"/><circle cx="43.78" cy="676.48" r="3.8"/><circle cx="52.64" cy="667.41" r="3.8"/><circle cx="43.36" cy="677.99" r="3.8"/><circle cx="42.88" cy="677.92" r="3.8"/><circle cx="43.71" cy="677.44" r="3.8"/><circle cx="45.18" cy="674.6" r="3.8"/><circle cx="42.92" cy="677.66" r="3.8"/><circle cx="43.23" cy="677.48" r="3.8"/><circle cx="44.45" cy="676.55" r="3.8"/><circle cx="46.67" cy="674.49" r="3.8"/><circle cx="43.07" cy="677.99" r="3.8"/><circle cx="44.4" cy="675.57" r="3.8"/><circle cx="52.09" cy="669.18" r="3.8"/><circle cx="54.03" cy="668" r="3.8"/><circle cx="47.88" cy="672.47" r="3.8"/><circle cx="48.42" cy="671.77" r="3.8"/><circle cx="46.84" cy="674.16" r="3.8"/><circle cx="43.1" cy="677.99" r="3.8"/><circle cx="42.89" cy="677.44" r="3.8"/><circle cx="42.88" cy="677.5" r="3.8"/><circle cx="52.49" cy="671.11" r="3.8"/><circle cx="48.58" cy="673.23" r="3.8"/><circle cx="53.63" cy="664.35" r="3.8"/><circle cx="42.88" cy="677.99" r="3.8"/><circle cx="47.57" cy="674.79" r="3.8"/><circle cx="45.57" cy="674.82" r="3.8"/><circle cx="49.07" cy="672.13" r="3.8"/><circle cx="44.33" cy="675.69" r="3.8"/><circle cx="46.37" cy="674.36" r="3.8"/><circle cx="47.39" cy="673.8" r="3.8"/><circle cx="48.94" cy="672.44" r="3.8"/><circle cx="50.51" cy="669.59" r="3.8"/><circle cx="51.87" cy="670.27" r="3.8"/><circle cx="53.74" cy="667.85" r="3.8"/><circle cx="55.56" cy="666.2" r="3.8"/><circle cx="57.04" cy="664.35" r="3.8"/><circle cx="58.7" cy="662.63" r="3.8"/><circle cx="59.91" cy="660.85" r="3.8"/></g>
<line x1="27.4" y1="693.4" x2="259.5" y2="462.3" stroke="#000" stroke-width="1.9" stroke-dasharray="6.94 3.07"/>
<path d="M27.4 462.3H259.5" stroke="#5a5a5a" stroke-width="0.8" fill="none"/>
<path d="M259.5 462.3V693.4" stroke="#5a5a5a" stroke-width="0.8" fill="none"/>
<path d="M27.4 462.3V693.4H259.5" stroke="#484848" stroke-width="0.8" fill="none"/>
<path d="M42.87 693.4v2.6M27.4 677.99h-2.6M73.82 693.4v2.6M27.4 647.18h-2.6M104.77 693.4v2.6M27.4 616.37h-2.6M135.71 693.4v2.6M27.4 585.55h-2.6M166.66 693.4v2.6M27.4 554.74h-2.6M197.61 693.4v2.6M27.4 523.93h-2.6M228.55 693.4v2.6M27.4 493.11h-2.6M259.5 693.4v2.6M27.4 462.3h-2.6" stroke="#333" stroke-width="0.7" fill="none"/>
<text class="tk" x="42.87" y="704.5" text-anchor="middle">0</text><text class="tk" x="22.7" y="681.49" text-anchor="end">0</text><text class="tk" x="73.82" y="704.5" text-anchor="middle">2</text><text class="tk" x="22.7" y="650.68" text-anchor="end">2</text><text class="tk" x="104.77" y="704.5" text-anchor="middle">4</text><text class="tk" x="22.7" y="619.87" text-anchor="end">4</text><text class="tk" x="135.71" y="704.5" text-anchor="middle">6</text><text class="tk" x="22.7" y="589.05" text-anchor="end">6</text><text class="tk" x="166.66" y="704.5" text-anchor="middle">8</text><text class="tk" x="22.7" y="558.24" text-anchor="end">8</text><text class="tk" x="197.61" y="704.5" text-anchor="middle">10</text><text class="tk" x="22.7" y="527.43" text-anchor="end">10</text><text class="tk" x="228.55" y="704.5" text-anchor="middle">12</text><text class="tk" x="22.7" y="496.61" text-anchor="end">12</text><text class="tk" x="259.5" y="704.5" text-anchor="middle">14</text><text class="tk" x="22.7" y="465.8" text-anchor="end">14</text>
<text class="al" x="143.45" y="716.7" text-anchor="middle">Experimental solubility</text>
<text class="al" transform="translate(8.4 578.25) rotate(-90)" text-anchor="middle">Predicted  solubility</text>
<text class="nm" x="207.6" y="687.9">CatBoost</text>
<rect x="31.3" y="465.6" width="66.6" height="23" rx="1.5" fill="#fff" fill-opacity="0.8" stroke="#d4d4d4" stroke-width="0.7"/>
<rect x="37.5" y="468.4" width="7.8" height="7.8" fill="#afeeee" stroke="#3c6266" stroke-width="0.6"/>
<circle cx="41.5" cy="482.6" r="3.9" fill="#00ff00" stroke="#065006" stroke-width="0.6"/>
<text class="lg" x="55.7" y="474.1">Training data</text>
<text class="lg" x="55.7" y="484.6">Test data</text>
</g>
<g id="XGBoost">
<g fill="#afeeee" stroke="#4d6e72" stroke-width="0.5"><rect x="388.78" y="399.7" width="6.73" height="52.1"/><rect x="395.51" y="442.57" width="6.73" height="9.23"/><rect x="402.25" y="448.82" width="6.73" height="2.98"/><rect x="408.98" y="450.41" width="6.73" height="1.39"/><rect x="415.72" y="451.2" width="6.73" height="0.6"/><rect x="422.45" y="451.3" width="6.73" height="0.5"/><rect x="429.18" y="451.4" width="6.73" height="0.4"/><rect x="435.92" y="451.4" width="6.73" height="0.4"/><rect x="442.65" y="451.4" width="6.73" height="0.4"/><rect x="449.38" y="451.4" width="6.73" height="0.4"/><rect x="456.12" y="451.4" width="6.73" height="0.4"/><rect x="462.85" y="451.5" width="6.73" height="0.3"/><rect x="469.59" y="451.5" width="6.73" height="0.3"/><rect x="476.32" y="451.5" width="6.73" height="0.3"/><rect x="483.05" y="451.5" width="6.73" height="0.3"/><rect x="489.79" y="451.5" width="6.73" height="0.3"/><rect x="496.52" y="451.6" width="6.73" height="0.2"/><rect x="503.25" y="451.6" width="6.73" height="0.2"/><rect x="509.99" y="451.6" width="6.73" height="0.2"/><rect x="516.72" y="451.7" width="6.73" height="0.1"/><rect x="523.46" y="451.7" width="6.73" height="0.1"/><rect x="530.19" y="451.7" width="6.73" height="0.1"/><rect x="536.92" y="451.7" width="6.73" height="0.1"/><rect x="584.06" y="451.7" width="6.73" height="0.1"/></g>
<g fill="#00ff00" stroke="#066006" stroke-width="0.5"><rect x="388.78" y="385.32" width="4.75" height="66.48"/><rect x="393.53" y="435.33" width="4.75" height="16.47"/><rect x="398.27" y="445.85" width="4.75" height="5.95"/><rect x="403.02" y="449.72" width="4.75" height="2.08"/><rect x="407.77" y="451.11" width="4.75" height="0.69"/><rect x="412.52" y="451.4" width="4.75" height="0.4"/><rect x="417.26" y="451.4" width="4.75" height="0.4"/><rect x="422.01" y="450.71" width="4.75" height="1.09"/><rect x="426.76" y="451.4" width="4.75" height="0.4"/><rect x="431.5" y="451.4" width="4.75" height="0.4"/><rect x="436.25" y="451.4" width="4.75" height="0.4"/><rect x="441" y="451.4" width="4.75" height="0.4"/><rect x="445.75" y="450.71" width="4.75" height="1.09"/><rect x="450.49" y="451.4" width="4.75" height="0.4"/><rect x="455.24" y="451.4" width="4.75" height="0.4"/><rect x="459.99" y="451.4" width="4.75" height="0.4"/><rect x="464.74" y="451.4" width="4.75" height="0.4"/><rect x="469.48" y="450.71" width="4.75" height="1.09"/><rect x="474.23" y="451.4" width="4.75" height="0.4"/><rect x="478.98" y="451.5" width="4.75" height="0.3"/><rect x="483.72" y="451.5" width="4.75" height="0.3"/><rect x="488.47" y="451.6" width="4.75" height="0.2"/><rect x="493.22" y="451.6" width="4.75" height="0.2"/><rect x="502.71" y="451.7" width="4.75" height="0.1"/><rect x="516.95" y="451.7" width="4.75" height="0.1"/><rect x="526.45" y="451.7" width="4.75" height="0.1"/></g>
<path d="M388.78 451.8H590.79" stroke="#93abae" stroke-width="0.7" fill="none"/>
<path d="M388.78 451.8H481.66" stroke="#1f8a1f" stroke-width="0.7" fill="none"/>
<path d="M481.66 451.8H531.2" stroke="#4f9a4f" stroke-width="0.5" fill="none"/>
<g fill="#afeeee" stroke="#4d6e72" stroke-width="0.5"><rect x="612.3" y="671.2" width="54.78" height="6.7"/><rect x="612.3" y="664.5" width="10.12" height="6.7"/><rect x="612.3" y="657.8" width="2.98" height="6.7"/><rect x="612.3" y="651.1" width="1.39" height="6.7"/><rect x="612.3" y="644.4" width="0.6" height="6.7"/><rect x="612.3" y="637.71" width="0.5" height="6.7"/><rect x="612.3" y="631.01" width="0.4" height="6.7"/><rect x="612.3" y="624.31" width="0.4" height="6.7"/><rect x="612.3" y="617.61" width="0.4" height="6.7"/><rect x="612.3" y="610.91" width="0.4" height="6.7"/><rect x="612.3" y="604.21" width="0.4" height="6.7"/><rect x="612.3" y="597.51" width="0.3" height="6.7"/><rect x="612.3" y="590.81" width="0.3" height="6.7"/><rect x="612.3" y="584.11" width="0.3" height="6.7"/><rect x="612.3" y="577.41" width="0.3" height="6.7"/><rect x="612.3" y="570.72" width="0.3" height="6.7"/><rect x="612.3" y="564.02" width="0.2" height="6.7"/><rect x="612.3" y="557.32" width="0.2" height="6.7"/><rect x="612.3" y="550.62" width="0.2" height="6.7"/><rect x="612.3" y="543.92" width="0.1" height="6.7"/><rect x="612.3" y="537.22" width="0.1" height="6.7"/><rect x="612.3" y="530.52" width="0.1" height="6.7"/><rect x="612.3" y="523.82" width="0.1" height="6.7"/><rect x="612.3" y="476.93" width="0.1" height="6.7"/></g>
<g fill="#00ff00" stroke="#066006" stroke-width="0.5"><rect x="612.3" y="673.18" width="69.76" height="4.72"/><rect x="612.3" y="668.45" width="18.06" height="4.72"/><rect x="612.3" y="663.73" width="6.55" height="4.72"/><rect x="612.3" y="659.01" width="2.58" height="4.72"/><rect x="612.3" y="654.29" width="0.69" height="4.72"/><rect x="612.3" y="649.56" width="0.4" height="4.72"/><rect x="612.3" y="644.84" width="0.4" height="4.72"/><rect x="612.3" y="640.12" width="1.09" height="4.72"/><rect x="612.3" y="635.4" width="0.4" height="4.72"/><rect x="612.3" y="630.67" width="0.4" height="4.72"/><rect x="612.3" y="625.95" width="0.4" height="4.72"/><rect x="612.3" y="621.23" width="0.4" height="4.72"/><rect x="612.3" y="616.51" width="1.09" height="4.72"/><rect x="612.3" y="611.78" width="0.4" height="4.72"/><rect x="612.3" y="607.06" width="0.4" height="4.72"/><rect x="612.3" y="602.34" width="0.4" height="4.72"/><rect x="612.3" y="597.61" width="0.4" height="4.72"/><rect x="612.3" y="592.89" width="1.09" height="4.72"/><rect x="612.3" y="588.17" width="0.4" height="4.72"/><rect x="612.3" y="583.45" width="0.3" height="4.72"/><rect x="612.3" y="578.72" width="0.3" height="4.72"/><rect x="612.3" y="574" width="0.2" height="4.72"/><rect x="612.3" y="569.28" width="0.2" height="4.72"/><rect x="612.3" y="559.83" width="0.1" height="4.72"/><rect x="612.3" y="545.67" width="0.1" height="4.72"/><rect x="612.3" y="536.22" width="0.1" height="4.72"/></g>
<path d="M612.3 677.9V476.93" stroke="#93abae" stroke-width="0.7" fill="none"/>
<path d="M612.3 677.9V585.5" stroke="#1f8a1f" stroke-width="0.7" fill="none"/>
<path d="M612.3 585.5V536.22" stroke="#4f9a4f" stroke-width="0.5" fill="none"/>
<g fill="#afeeee" stroke="#3c6266" stroke-width="0.7"><rect x="586.68" y="473.59" width="7.6" height="7.6"/><rect x="552.01" y="508.86" width="7.6" height="7.6"/><rect x="548.6" y="511.94" width="7.6" height="7.6"/><rect x="541.02" y="519.33" width="7.6" height="7.6"/><rect x="538.23" y="521.95" width="7.6" height="7.6"/><rect x="528.79" y="531.96" width="7.6" height="7.6"/><rect x="525.23" y="534.88" width="7.6" height="7.6"/><rect x="521.98" y="537.66" width="7.6" height="7.6"/><rect x="391.89" y="668" width="7.6" height="7.6"/><rect x="393.44" y="665.9" width="7.6" height="7.6"/><rect x="395.32" y="662.94" width="7.6" height="7.6"/><rect x="396.18" y="663.15" width="7.6" height="7.6"/><rect x="397.65" y="661.42" width="7.6" height="7.6"/><rect x="399.18" y="660.19" width="7.6" height="7.6"/><rect x="400.1" y="660.1" width="7.6" height="7.6"/><rect x="401.93" y="657.55" width="7.6" height="7.6"/><rect x="403.5" y="655.46" width="7.6" height="7.6"/><rect x="405.13" y="653.93" width="7.6" height="7.6"/><rect x="405.68" y="653.61" width="7.6" height="7.6"/><rect x="407.37" y="653.14" width="7.6" height="7.6"/><rect x="408.53" y="649.92" width="7.6" height="7.6"/><rect x="410.84" y="647.93" width="7.6" height="7.6"/><rect x="412.12" y="646.47" width="7.6" height="7.6"/><rect x="412.74" y="645.68" width="7.6" height="7.6"/><rect x="415.33" y="644.18" width="7.6" height="7.6"/><rect x="416.73" y="642.88" width="7.6" height="7.6"/><rect x="417.77" y="641.28" width="7.6" height="7.6"/><rect x="419.15" y="639.08" width="7.6" height="7.6"/><rect x="420.01" y="640.29" width="7.6" height="7.6"/><rect x="421.25" y="638.16" width="7.6" height="7.6"/><rect x="423.31" y="636.41" width="7.6" height="7.6"/><rect x="424.16" y="634.78" width="7.6" height="7.6"/><rect x="425.74" y="632.65" width="7.6" height="7.6"/><rect x="427.23" y="632.25" width="7.6" height="7.6"/><rect x="428.39" y="631.68" width="7.6" height="7.6"/><rect x="430.35" y="628.93" width="7.6" height="7.6"/><rect x="431.75" y="627.75" width="7.6" height="7.6"/><rect x="433.67" y="626.61" width="7.6" height="7.6"/><rect x="434.69" y="624.1" width="7.6" height="7.6"/><rect x="436.27" y="623.4" width="7.6" height="7.6"/><rect x="437.52" y="621.41" width="7.6" height="7.6"/><rect x="439.14" y="621.03" width="7.6" height="7.6"/><rect x="440.31" y="618.38" width="7.6" height="7.6"/><rect x="441.52" y="618.74" width="7.6" height="7.6"/><rect x="443.83" y="614.9" width="7.6" height="7.6"/><rect x="445.25" y="615.25" width="7.6" height="7.6"/><rect x="446.49" y="612.06" width="7.6" height="7.6"/><rect x="447.75" y="611.89" width="7.6" height="7.6"/><rect x="448.68" y="611.68" width="7.6" height="7.6"/><rect x="450" y="609.56" width="7.6" height="7.6"/><rect x="451.5" y="607.72" width="7.6" height="7.6"/><rect x="452.65" y="607.39" width="7.6" height="7.6"/><rect x="454.94" y="604.81" width="7.6" height="7.6"/><rect x="455.91" y="603.37" width="7.6" height="7.6"/><rect x="457.89" y="601.67" width="7.6" height="7.6"/><rect x="458.74" y="602.61" width="7.6" height="7.6"/><rect x="460.87" y="598.86" width="7.6" height="7.6"/><rect x="462.16" y="597.06" width="7.6" height="7.6"/><rect x="462.54" y="596.76" width="7.6" height="7.6"/><rect x="464.22" y="594.65" width="7.6" height="7.6"/><rect x="466.51" y="593.42" width="7.6" height="7.6"/><rect x="467.39" y="590.54" width="7.6" height="7.6"/><rect x="469.45" y="589.58" width="7.6" height="7.6"/><rect x="470.15" y="589.18" width="7.6" height="7.6"/><rect x="471.17" y="587.69" width="7.6" height="7.6"/><rect x="473.28" y="585.67" width="7.6" height="7.6"/><rect x="474.89" y="584.59" width="7.6" height="7.6"/><rect x="475.69" y="584.24" width="7.6" height="7.6"/><rect x="476.88" y="582.04" width="7.6" height="7.6"/><rect x="478.61" y="580.69" width="7.6" height="7.6"/><rect x="480.82" y="579.92" width="7.6" height="7.6"/><rect x="481.99" y="578.27" width="7.6" height="7.6"/><rect x="482.62" y="576.68" width="7.6" height="7.6"/><rect x="484.2" y="575.32" width="7.6" height="7.6"/><rect x="485.45" y="573.98" width="7.6" height="7.6"/><rect x="486.82" y="572.39" width="7.6" height="7.6"/><rect x="489.16" y="570.37" width="7.6" height="7.6"/><rect x="489.81" y="568.83" width="7.6" height="7.6"/><rect x="491.71" y="568.28" width="7.6" height="7.6"/><rect x="493" y="566.89" width="7.6" height="7.6"/><rect x="494.1" y="565.34" width="7.6" height="7.6"/><rect x="496.2" y="563" width="7.6" height="7.6"/><rect x="496.88" y="562.3" width="7.6" height="7.6"/><rect x="498.94" y="559.82" width="7.6" height="7.6"/><rect x="499.71" y="560.26" width="7.6" height="7.6"/><rect x="503.25" y="555.73" width="7.6" height="7.6"/><rect x="507.43" y="552" width="7.6" height="7.6"/><rect x="516.56" y="543.84" width="7.6" height="7.6"/><rect x="519.97" y="539.9" width="7.6" height="7.6"/><rect x="387.17" y="671.49" width="7.6" height="7.6"/><rect x="385.54" y="673.42" width="7.6" height="7.6"/><rect x="385.88" y="673.28" width="7.6" height="7.6"/><rect x="396.65" y="663.65" width="7.6" height="7.6"/><rect x="392.97" y="666.43" width="7.6" height="7.6"/><rect x="386.13" y="673.08" width="7.6" height="7.6"/><rect x="394.68" y="664.42" width="7.6" height="7.6"/><rect x="385.53" y="673.19" width="7.6" height="7.6"/><rect x="386.91" y="672.04" width="7.6" height="7.6"/><rect x="394.02" y="664.98" width="7.6" height="7.6"/><rect x="390.08" y="669.3" width="7.6" height="7.6"/><rect x="385.1" y="674.1" width="7.6" height="7.6"/><rect x="397.1" y="662.15" width="7.6" height="7.6"/><rect x="385.54" y="673.61" width="7.6" height="7.6"/><rect x="385.81" y="672.79" width="7.6" height="7.6"/><rect x="392.37" y="666.89" width="7.6" height="7.6"/><rect x="386.32" y="672.88" width="7.6" height="7.6"/><rect x="386.07" y="672.83" width="7.6" height="7.6"/><rect x="385.05" y="674.02" width="7.6" height="7.6"/><rect x="385.08" y="674.1" width="7.6" height="7.6"/><rect x="389.19" y="669.58" width="7.6" height="7.6"/><rect x="385.71" y="673.42" width="7.6" height="7.6"/><rect x="389.46" y="670.01" width="7.6" height="7.6"/><rect x="386.69" y="672.34" width="7.6" height="7.6"/><rect x="387.52" y="671.46" width="7.6" height="7.6"/><rect x="396.37" y="662.93" width="7.6" height="7.6"/><rect x="387.88" y="671.06" width="7.6" height="7.6"/><rect x="389.07" y="669.82" width="7.6" height="7.6"/><rect x="394.28" y="665.22" width="7.6" height="7.6"/><rect x="385.39" y="674" width="7.6" height="7.6"/><rect x="385.27" y="674.1" width="7.6" height="7.6"/><rect x="395.2" y="663.99" width="7.6" height="7.6"/><rect x="393.26" y="665.39" width="7.6" height="7.6"/><rect x="385.75" y="673.17" width="7.6" height="7.6"/><rect x="385.43" y="673.44" width="7.6" height="7.6"/><rect x="391.75" y="666.73" width="7.6" height="7.6"/><rect x="395.93" y="663.2" width="7.6" height="7.6"/><rect x="385.46" y="673.46" width="7.6" height="7.6"/><rect x="396.16" y="663.7" width="7.6" height="7.6"/><rect x="394.62" y="664.22" width="7.6" height="7.6"/><rect x="389.49" y="669.51" width="7.6" height="7.6"/><rect x="387.18" y="671.93" width="7.6" height="7.6"/><rect x="385.11" y="674.03" width="7.6" height="7.6"/><rect x="385" y="674.1" width="7.6" height="7.6"/><rect x="396.46" y="662.61" width="7.6" height="7.6"/><rect x="385.68" y="673.2" width="7.6" height="7.6"/><rect x="391.13" y="668.1" width="7.6" height="7.6"/><rect x="385.8" y="673.2" width="7.6" height="7.6"/><rect x="393.38" y="666" width="7.6" height="7.6"/><rect x="389.39" y="669.65" width="7.6" height="7.6"/></g>
<g fill="#00ff00" stroke="#065006" stroke-width="0.65"><circle cx="497.29" cy="565.63" r="3.8"/><circle cx="501.16" cy="576.11" r="3.8"/><circle cx="480.58" cy="581.34" r="3.8"/><circle cx="483.83" cy="587.96" r="3.8"/><circle cx="468.97" cy="588.73" r="3.8"/><circle cx="475.16" cy="589.81" r="3.8"/><circle cx="466.33" cy="596.74" r="3.8"/><circle cx="473.3" cy="600.13" r="3.8"/><circle cx="470.51" cy="602.44" r="3.8"/><circle cx="457.67" cy="608.91" r="3.8"/><circle cx="452.56" cy="614.61" r="3.8"/><circle cx="441.72" cy="617.84" r="3.8"/><circle cx="447.76" cy="617.07" r="3.8"/><circle cx="449.31" cy="624.46" r="3.8"/><circle cx="448.69" cy="627.85" r="3.8"/><circle cx="430.73" cy="630.93" r="3.8"/><circle cx="424.54" cy="637.24" r="3.8"/><circle cx="415.56" cy="641.86" r="3.8"/><circle cx="420.36" cy="643.71" r="3.8"/><circle cx="427.02" cy="645.1" r="3.8"/><circle cx="413.39" cy="647.56" r="3.8"/><circle cx="423.76" cy="652.18" r="3.8"/><circle cx="419.74" cy="654.49" r="3.8"/><circle cx="409.06" cy="652.18" r="3.8"/><circle cx="412.77" cy="654.03" r="3.8"/><circle cx="530.73" cy="553.47" r="3.8"/><circle cx="517.88" cy="557.78" r="3.8"/><circle cx="404.26" cy="661.73" r="3.8"/><circle cx="401.16" cy="664.81" r="3.8"/><circle cx="406.58" cy="660.96" r="3.8"/><circle cx="398.84" cy="668.66" r="3.8"/><circle cx="396.52" cy="668.66" r="3.8"/><circle cx="402.71" cy="665.58" r="3.8"/><circle cx="399.62" cy="666.35" r="3.8"/><circle cx="403.49" cy="662.81" r="3.8"/><circle cx="405.81" cy="659.73" r="3.8"/><circle cx="408.13" cy="659.42" r="3.8"/><circle cx="410.45" cy="655.57" r="3.8"/><circle cx="397.29" cy="670.2" r="3.8"/><circle cx="408.9" cy="656.65" r="3.8"/><circle cx="411.23" cy="656.65" r="3.8"/><circle cx="389.78" cy="677.24" r="3.8"/><circle cx="389.14" cy="677.43" r="3.8"/><circle cx="394.8" cy="672.04" r="3.8"/><circle cx="388.83" cy="677.76" r="3.8"/><circle cx="389.39" cy="677.49" r="3.8"/><circle cx="392.41" cy="674.84" r="3.8"/><circle cx="397.22" cy="669.75" r="3.8"/><circle cx="393.16" cy="673.01" r="3.8"/><circle cx="389.69" cy="676.48" r="3.8"/><circle cx="398.55" cy="668.44" r="3.8"/><circle cx="389.26" cy="677.18" r="3.8"/><circle cx="388.78" cy="677.69" r="3.8"/><circle cx="389.62" cy="676.94" r="3.8"/><circle cx="391.09" cy="676.23" r="3.8"/><circle cx="388.82" cy="677.77" r="3.8"/><circle cx="389.14" cy="677.83" r="3.8"/><circle cx="390.36" cy="675.9" r="3.8"/><circle cx="392.58" cy="673.74" r="3.8"/><circle cx="388.98" cy="677.52" r="3.8"/><circle cx="390.3" cy="677.3" r="3.8"/><circle cx="398" cy="668.25" r="3.8"/><circle cx="399.94" cy="666.18" r="3.8"/><circle cx="393.79" cy="673.61" r="3.8"/><circle cx="394.33" cy="671.82" r="3.8"/><circle cx="392.75" cy="673.92" r="3.8"/><circle cx="389.01" cy="677.73" r="3.8"/><circle cx="388.79" cy="677.9" r="3.8"/><circle cx="388.78" cy="677.9" r="3.8"/><circle cx="398.4" cy="668.68" r="3.8"/><circle cx="394.48" cy="670.42" r="3.8"/><circle cx="399.54" cy="667.02" r="3.8"/><circle cx="388.79" cy="677.84" r="3.8"/><circle cx="393.48" cy="673.57" r="3.8"/><circle cx="391.48" cy="675.47" r="3.8"/><circle cx="394.98" cy="672.07" r="3.8"/><circle cx="390.21" cy="676.81" r="3.8"/><circle cx="391.72" cy="674.94" r="3.8"/><circle cx="393.32" cy="673.49" r="3.8"/><circle cx="394.69" cy="672.11" r="3.8"/><circle cx="396.73" cy="670.84" r="3.8"/><circle cx="398.13" cy="667.49" r="3.8"/><circle cx="399.82" cy="667.63" r="3.8"/><circle cx="400.79" cy="664.68" r="3.8"/><circle cx="402.38" cy="663.35" r="3.8"/><circle cx="404.45" cy="662.03" r="3.8"/><circle cx="405.51" cy="661.82" r="3.8"/></g>
<line x1="373.3" y1="693.3" x2="605.5" y2="462.3" stroke="#000" stroke-width="1.9" stroke-dasharray="6.95 3.08"/>
<path d="M373.3 462.3H605.5" stroke="#5a5a5a" stroke-width="0.8" fill="none"/>
<path d="M605.5 462.3V693.3" stroke="#5a5a5a" stroke-width="0.8" fill="none"/>
<path d="M373.3 462.3V693.3H605.5" stroke="#484848" stroke-width="0.8" fill="none"/>
<path d="M388.78 693.3v2.6M373.3 677.9h-2.6M419.74 693.3v2.6M373.3 647.1h-2.6M450.7 693.3v2.6M373.3 616.3h-2.6M481.66 693.3v2.6M373.3 585.5h-2.6M512.62 693.3v2.6M373.3 554.7h-2.6M543.58 693.3v2.6M373.3 523.9h-2.6M574.54 693.3v2.6M373.3 493.1h-2.6M605.5 693.3v2.6M373.3 462.3h-2.6" stroke="#333" stroke-width="0.7" fill="none"/>
<text class="tk" x="388.78" y="704.4" text-anchor="middle">0</text><text class="tk" x="368.6" y="681.4" text-anchor="end">0</text><text class="tk" x="419.74" y="704.4" text-anchor="middle">2</text><text class="tk" x="368.6" y="650.6" text-anchor="end">2</text><text class="tk" x="450.7" y="704.4" text-anchor="middle">4</text><text class="tk" x="368.6" y="619.8" text-anchor="end">4</text><text class="tk" x="481.66" y="704.4" text-anchor="middle">6</text><text class="tk" x="368.6" y="589" text-anchor="end">6</text><text class="tk" x="512.62" y="704.4" text-anchor="middle">8</text><text class="tk" x="368.6" y="558.2" text-anchor="end">8</text><text class="tk" x="543.58" y="704.4" text-anchor="middle">10</text><text class="tk" x="368.6" y="527.4" text-anchor="end">10</text><text class="tk" x="574.54" y="704.4" text-anchor="middle">12</text><text class="tk" x="368.6" y="496.6" text-anchor="end">12</text><text class="tk" x="605.5" y="704.4" text-anchor="middle">14</text><text class="tk" x="368.6" y="465.8" text-anchor="end">14</text>
<text class="al" x="489.4" y="716.6" text-anchor="middle">Experimental solubility</text>
<text class="al" transform="translate(354.3 578.2) rotate(-90)" text-anchor="middle">Predicted  solubility</text>
<text class="nm" x="549.2" y="687.5">XGBoost</text>
<rect x="377.2" y="465.6" width="66.6" height="23" rx="1.5" fill="#fff" fill-opacity="0.8" stroke="#d4d4d4" stroke-width="0.7"/>
<rect x="383.4" y="468.4" width="7.8" height="7.8" fill="#afeeee" stroke="#3c6266" stroke-width="0.6"/>
<circle cx="387.4" cy="482.6" r="3.9" fill="#00ff00" stroke="#065006" stroke-width="0.6"/>
<text class="lg" x="401.6" y="474.1">Training data</text>
<text class="lg" x="401.6" y="484.6">Test data</text>
</g>
</svg></body></html>
